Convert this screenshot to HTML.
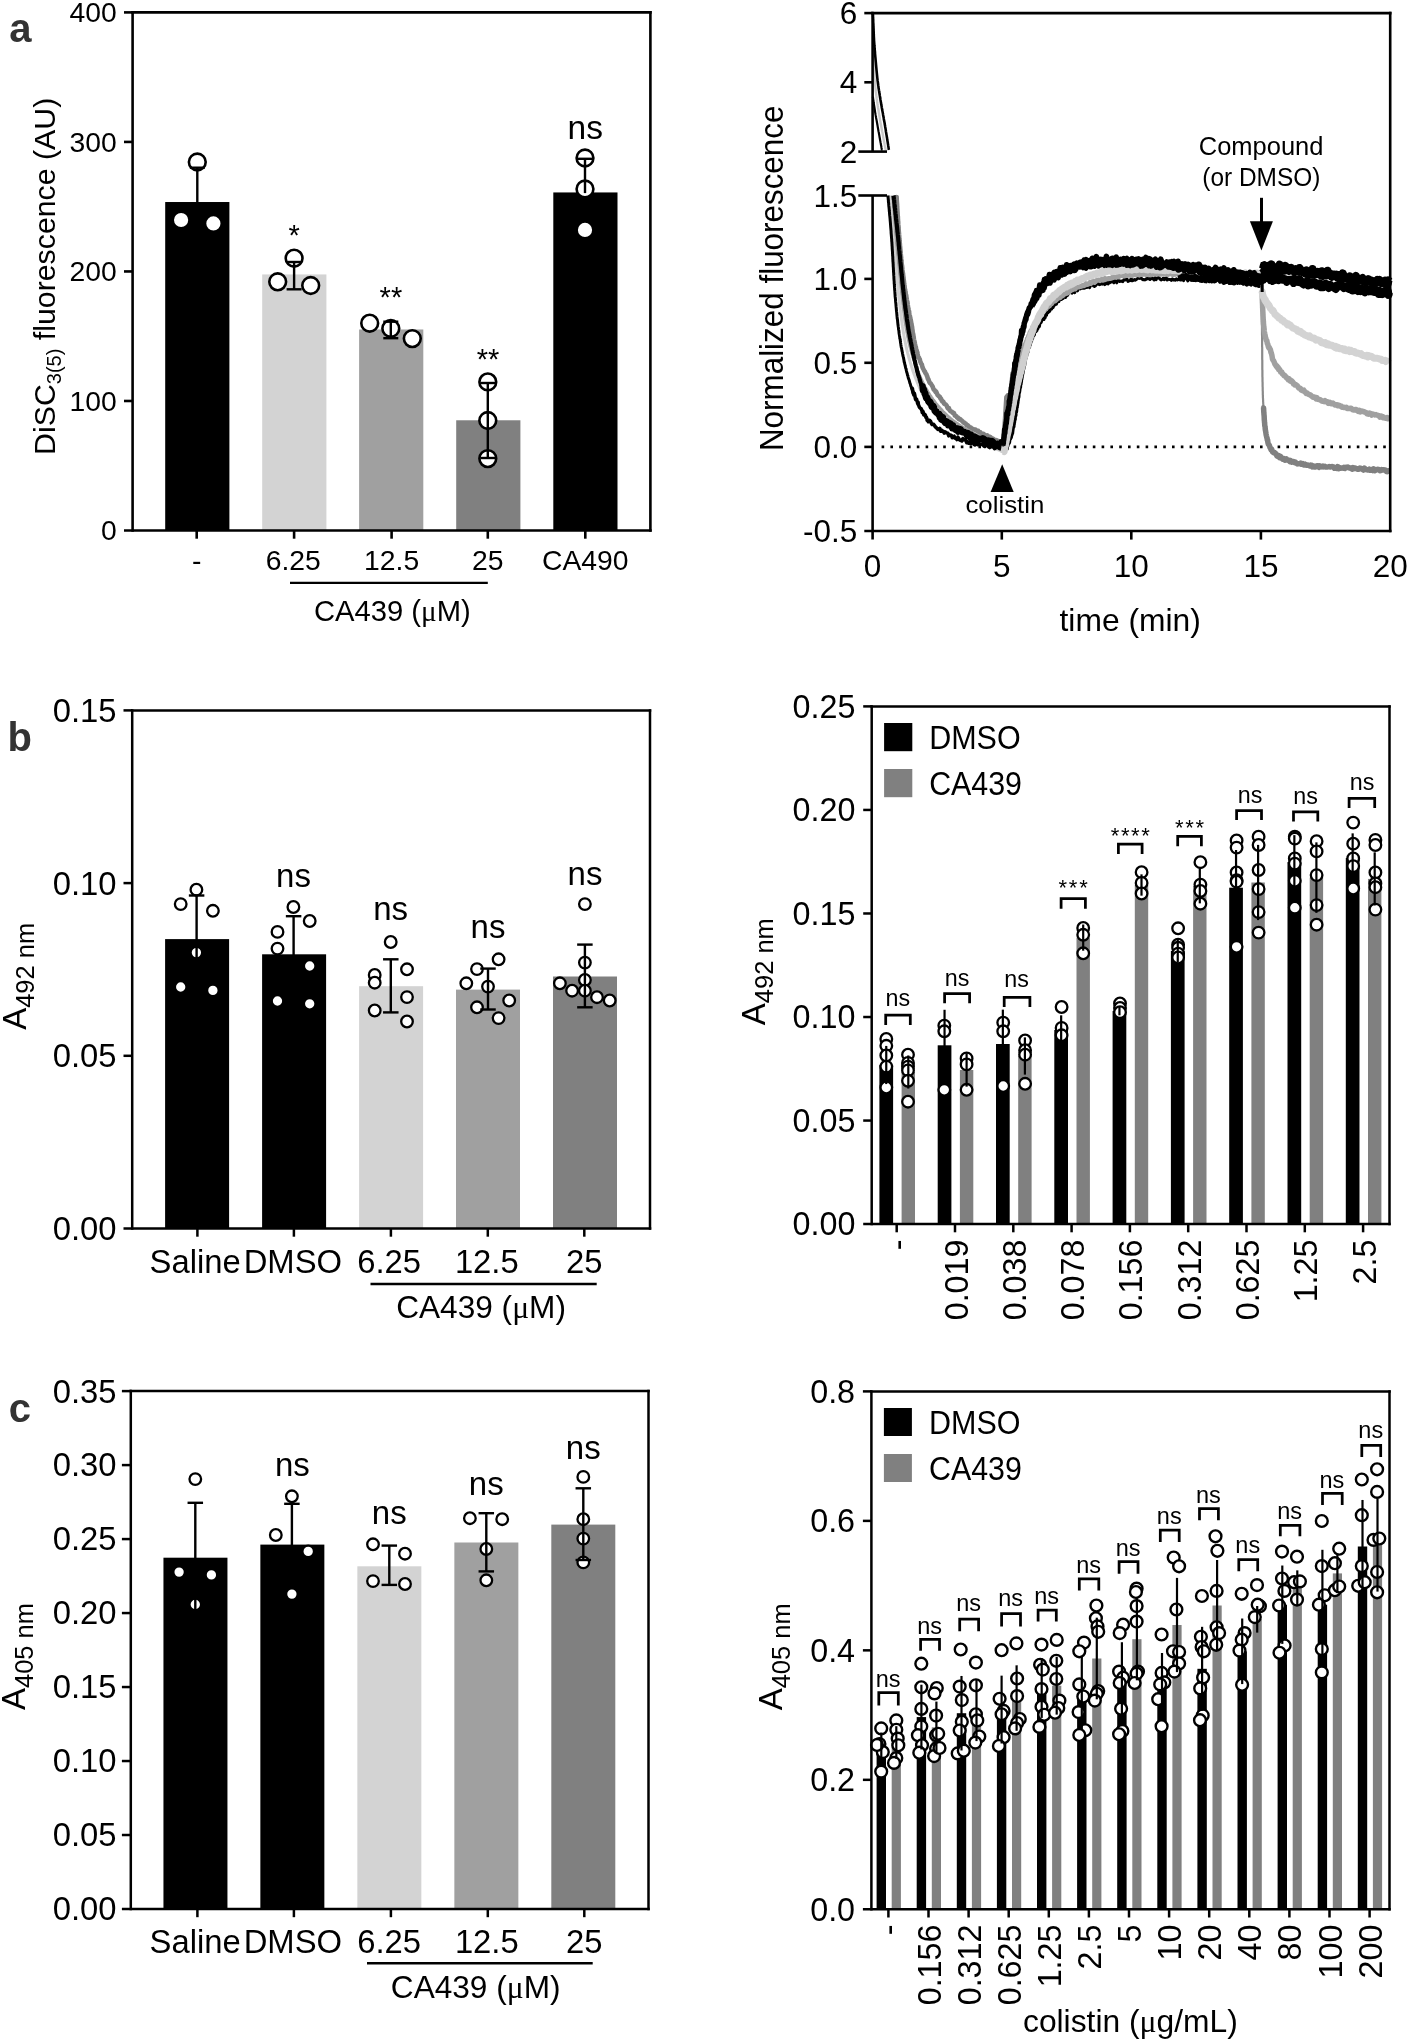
<!DOCTYPE html>
<html><head><meta charset="utf-8"><style>
html,body{margin:0;padding:0;background:#fff;}
svg{display:block;will-change:transform;}
text{font-family:"Liberation Sans", sans-serif;fill:#000;}
</style></head><body>
<svg width="1408" height="2041" viewBox="0 0 1408 2041">
<rect width="1408" height="2041" fill="#fff"/>
<text x="9.30" y="41.50" font-size="40" text-anchor="start" font-weight="bold" style="fill:#333" >a</text>
<text x="7.50" y="751.30" font-size="40" text-anchor="start" font-weight="bold" style="fill:#333" >b</text>
<text x="8.80" y="1422.20" font-size="40" text-anchor="start" font-weight="bold" style="fill:#333" >c</text>
<rect x="165.20" y="202.02" width="64.20" height="328.48" fill="#000"/>
<rect x="262.20" y="274.43" width="64.20" height="256.07" fill="#d3d3d3"/>
<rect x="359.10" y="329.48" width="64.20" height="201.02" fill="#a0a0a0"/>
<rect x="456.20" y="420.27" width="64.20" height="110.23" fill="#808080"/>
<rect x="553.30" y="192.44" width="64.20" height="338.06" fill="#000"/>
<circle cx="197.30" cy="162.00" r="8.4" fill="#fff" stroke="#000" stroke-width="2.6"/>
<circle cx="181.10" cy="220.00" r="8.4" fill="#fff" stroke="#000" stroke-width="2.6"/>
<circle cx="213.40" cy="223.40" r="8.4" fill="#fff" stroke="#000" stroke-width="2.6"/>
<circle cx="294.10" cy="258.20" r="8.4" fill="#fff" stroke="#000" stroke-width="2.6"/>
<circle cx="277.70" cy="281.80" r="8.4" fill="#fff" stroke="#000" stroke-width="2.6"/>
<circle cx="310.70" cy="285.50" r="8.4" fill="#fff" stroke="#000" stroke-width="2.6"/>
<circle cx="369.70" cy="323.20" r="8.4" fill="#fff" stroke="#000" stroke-width="2.6"/>
<circle cx="390.80" cy="328.50" r="8.4" fill="#fff" stroke="#000" stroke-width="2.6"/>
<circle cx="412.30" cy="338.60" r="8.4" fill="#fff" stroke="#000" stroke-width="2.6"/>
<circle cx="487.80" cy="381.90" r="8.4" fill="#fff" stroke="#000" stroke-width="2.6"/>
<circle cx="487.80" cy="420.50" r="8.4" fill="#fff" stroke="#000" stroke-width="2.6"/>
<circle cx="487.80" cy="458.60" r="8.4" fill="#fff" stroke="#000" stroke-width="2.6"/>
<circle cx="585.00" cy="158.00" r="8.4" fill="#fff" stroke="#000" stroke-width="2.6"/>
<circle cx="585.00" cy="189.00" r="8.4" fill="#fff" stroke="#000" stroke-width="2.6"/>
<circle cx="585.00" cy="229.90" r="8.4" fill="#fff" stroke="#000" stroke-width="2.6"/>
<line x1="197.30" y1="167.70" x2="197.30" y2="202.40" stroke="#000" stroke-width="2.4" />
<line x1="189.80" y1="167.70" x2="204.80" y2="167.70" stroke="#000" stroke-width="2.4" />
<line x1="294.10" y1="262.00" x2="294.10" y2="289.30" stroke="#000" stroke-width="2.4" />
<line x1="286.60" y1="262.00" x2="301.60" y2="262.00" stroke="#000" stroke-width="2.4" />
<line x1="286.60" y1="289.30" x2="301.60" y2="289.30" stroke="#000" stroke-width="2.4" />
<line x1="390.80" y1="321.70" x2="390.80" y2="338.20" stroke="#000" stroke-width="2.4" />
<line x1="383.30" y1="321.70" x2="398.30" y2="321.70" stroke="#000" stroke-width="2.4" />
<line x1="383.30" y1="338.20" x2="398.30" y2="338.20" stroke="#000" stroke-width="2.4" />
<line x1="487.80" y1="383.00" x2="487.80" y2="458.00" stroke="#000" stroke-width="2.4" />
<line x1="480.30" y1="383.00" x2="495.30" y2="383.00" stroke="#000" stroke-width="2.4" />
<line x1="480.30" y1="458.00" x2="495.30" y2="458.00" stroke="#000" stroke-width="2.4" />
<line x1="585.00" y1="158.80" x2="585.00" y2="193.10" stroke="#000" stroke-width="2.4" />
<line x1="577.75" y1="158.80" x2="592.25" y2="158.80" stroke="#000" stroke-width="2.4" />
<text x="294.10" y="245.00" font-size="29" text-anchor="middle" >*</text>
<text x="390.90" y="306.50" font-size="29" text-anchor="middle" >**</text>
<text x="488.00" y="369.00" font-size="29" text-anchor="middle" >**</text>
<text x="585.20" y="139.20" font-size="33.5" text-anchor="middle" >ns</text>
<line x1="132.60" y1="11.10" x2="132.60" y2="531.80" stroke="#000" stroke-width="2.6" />
<line x1="131.30" y1="12.40" x2="651.70" y2="12.40" stroke="#000" stroke-width="2.6" />
<line x1="650.40" y1="11.10" x2="650.40" y2="531.80" stroke="#000" stroke-width="2.6" />
<line x1="124.00" y1="530.50" x2="651.70" y2="530.50" stroke="#000" stroke-width="2.6" />
<line x1="124.00" y1="400.98" x2="132.60" y2="400.98" stroke="#000" stroke-width="2.6" />
<line x1="124.00" y1="271.45" x2="132.60" y2="271.45" stroke="#000" stroke-width="2.6" />
<line x1="124.00" y1="141.93" x2="132.60" y2="141.93" stroke="#000" stroke-width="2.6" />
<line x1="124.00" y1="12.40" x2="132.60" y2="12.40" stroke="#000" stroke-width="2.6" />
<text x="116.80" y="540.10" font-size="28.3" text-anchor="end" >0</text>
<text x="116.80" y="410.58" font-size="28.3" text-anchor="end" >100</text>
<text x="116.80" y="281.05" font-size="28.3" text-anchor="end" >200</text>
<text x="116.80" y="151.53" font-size="28.3" text-anchor="end" >300</text>
<text x="116.80" y="22.00" font-size="28.3" text-anchor="end" >400</text>
<line x1="196.70" y1="530.50" x2="196.70" y2="538.70" stroke="#000" stroke-width="2.6" />
<line x1="294.10" y1="530.50" x2="294.10" y2="538.70" stroke="#000" stroke-width="2.6" />
<line x1="391.60" y1="530.50" x2="391.60" y2="538.70" stroke="#000" stroke-width="2.6" />
<line x1="487.80" y1="530.50" x2="487.80" y2="538.70" stroke="#000" stroke-width="2.6" />
<line x1="585.30" y1="530.50" x2="585.30" y2="538.70" stroke="#000" stroke-width="2.6" />
<text x="196.70" y="570.40" font-size="28.3" text-anchor="middle" >-</text>
<text x="293.30" y="570.40" font-size="28.3" text-anchor="middle" >6.25</text>
<text x="391.60" y="570.40" font-size="28.3" text-anchor="middle" >12.5</text>
<text x="487.80" y="570.40" font-size="28.3" text-anchor="middle" >25</text>
<text x="585.30" y="570.40" font-size="28.3" text-anchor="middle" >CA490</text>
<line x1="290.00" y1="582.80" x2="487.80" y2="582.80" stroke="#000" stroke-width="2.3" />
<text x="392.30" y="621.00" font-size="29.2" text-anchor="middle" >CA439 (<tspan style="font-family:'Liberation Serif',serif">μ</tspan>M)</text>
<text transform="translate(55.2,276.3) rotate(-90)" font-size="30.3" text-anchor="middle">DiSC<tspan font-size="20" dy="5.9">3(5)</tspan><tspan dy="-5.9"> fluorescence (AU)</tspan></text>
<line x1="881.6" y1="446.9" x2="1386.2" y2="446.9" stroke="#000" stroke-width="2.6" stroke-dasharray="2.6,6.2" stroke-linecap="butt"/>
<g>
<polyline points="873.2,45.5 873.2,46.0 873.2,46.6 873.3,47.3 873.3,47.9 873.3,48.7 873.3,49.5 873.3,50.3 873.4,51.2 873.4,52.1 873.4,53.0 873.4,54.0 873.5,55.0 873.5,56.0 873.5,57.1 873.6,58.2 873.6,59.3 873.6,60.4 873.7,61.5 873.7,62.6 873.7,63.8 873.8,65.0 873.8,66.1 873.9,67.3 873.9,68.5 874.0,69.6 874.0,70.8 874.1,71.9 874.2,73.1 874.2,74.2 874.3,75.3 874.4,76.4 874.4,77.4 874.5,78.5 874.6,79.5 874.7,80.5 874.8,81.5 874.9,82.5 875.0,83.5 875.1,84.5 875.2,85.5 875.3,86.5 875.4,87.5 875.5,88.4 875.6,89.4 875.7,90.4 875.8,91.4 876.0,92.4 876.1,93.4 876.2,94.4 876.3,95.4 876.5,96.4 876.6,97.4 876.7,98.4 876.9,99.4 877.0,100.4 877.1,101.4 877.3,102.4 877.4,103.4 877.6,104.4 877.7,105.4 877.9,106.4 878.0,107.4 878.2,108.4 878.4,109.5 878.5,110.5 878.7,111.5 878.8,112.6 879.0,113.6 879.2,114.6 879.3,115.6 879.5,116.6 879.7,117.7 879.9,118.7 880.0,119.8 880.2,120.9 880.4,122.1 880.6,123.2 880.8,124.4 881.1,125.5 881.3,126.7 881.5,127.8 881.7,129.0 881.9,130.2 882.1,131.3 882.4,132.5 882.6,133.6 882.8,134.7 883.0,135.9 883.2,137.0 883.4,138.0 883.6,139.1 883.8,140.2 884.0,141.2 884.2,142.2 884.4,143.1 884.6,144.0 884.7,144.9 884.9,145.8 885.1,146.6 885.2,147.4 885.3,148.1 885.5,148.8 885.6,149.4 885.7,150.0 885.8,150.5" fill="none" stroke="#c8c8c8" stroke-width="2.4" stroke-linejoin="round" stroke-linecap="butt"/>
<polyline points="872.8,96.6 872.9,97.1 873.0,97.7 873.1,98.3 873.1,99.0 873.3,99.7 873.4,100.5 873.5,101.4 873.6,102.3 873.8,103.3 873.9,104.3 874.1,105.4 874.3,106.6 874.5,107.9 874.7,109.2 874.9,110.6 875.1,112.1 875.4,113.6 875.5,114.4 875.7,115.2 875.8,116.0 876.0,116.9 876.1,117.9 876.3,118.9 876.5,119.9 876.7,120.9 876.9,122.0 877.1,123.1 877.3,124.3 877.5,125.4 877.7,126.6 877.9,127.7 878.1,128.9 878.3,130.1 878.5,131.3 878.8,132.5 879.0,133.7 879.2,134.9 879.4,136.1 879.6,137.2 879.8,138.3 880.0,139.5 880.2,140.6 880.4,141.6 880.6,142.7 880.8,143.6 880.9,144.6 881.1,145.5 881.3,146.4 881.4,147.2 881.5,148.0 881.7,148.7 881.8,149.4 881.9,150.0 882.0,150.5" fill="none" stroke="#000" stroke-width="2.2" stroke-linejoin="round" stroke-linecap="butt"/>
<polyline points="872.9,13.6 872.9,14.2 873.0,14.9 873.0,15.7 873.0,16.6 873.1,17.5 873.1,18.6 873.2,19.7 873.2,20.8 873.2,22.0 873.3,23.2 873.4,24.4 873.4,25.6 873.5,26.7 873.5,27.9 873.6,29.0 873.6,30.0 873.6,31.0 873.7,32.0 873.7,32.9 873.7,33.7 873.8,34.5 873.8,35.4 873.8,36.2 873.9,37.1 873.9,38.0 874.0,39.0 874.0,40.1 874.1,41.2 874.2,42.5 874.3,43.9 874.4,45.5 874.5,46.2 874.5,47.0 874.6,47.9 874.7,48.7 874.7,49.6 874.8,50.5 874.9,51.5 875.0,52.5 875.0,53.5 875.1,54.5 875.2,55.5 875.3,56.6 875.4,57.7 875.5,58.7 875.6,59.8 875.7,60.9 875.8,62.0 875.9,63.2 876.0,64.3 876.1,65.4 876.2,66.5 876.3,67.6 876.4,68.7 876.5,69.8 876.6,70.8 876.7,71.9 876.8,72.9 876.9,73.9 877.0,74.9 877.1,75.9 877.2,76.8 877.3,77.8 877.4,78.6 877.5,79.5 877.6,80.7 877.8,81.9 877.9,83.0 878.1,84.1 878.2,85.2 878.4,86.2 878.5,87.3 878.6,88.3 878.8,89.2 878.9,90.2 879.1,91.1 879.2,92.1 879.4,93.0 879.5,93.9 879.7,94.8 879.8,95.7 880.0,96.6 880.1,97.6 880.3,98.5 880.4,99.4 880.6,100.4 880.7,101.3 880.9,102.3 881.1,103.3 881.2,104.3 881.4,105.2 881.6,106.2 881.7,107.2 881.9,108.2 882.1,109.1 882.2,110.1 882.4,111.1 882.6,112.1 882.8,113.0 883.0,114.0 883.1,115.0 883.3,116.0 883.5,116.9 883.7,117.9 883.8,118.9 884.0,119.9 884.2,120.9 884.4,121.9 884.6,122.9 884.7,124.0 884.9,125.0 885.1,126.0 885.2,127.0 885.4,128.1 885.6,129.1 885.8,130.3 885.9,131.4 886.1,132.5 886.3,133.7 886.5,134.9 886.7,136.0 886.9,137.2 887.1,138.3 887.2,139.5 887.4,140.6 887.6,141.7 887.8,142.7 887.9,143.8 888.1,144.7 888.2,145.7 888.4,146.6 888.5,147.4 888.6,148.1 888.7,148.8 888.8,149.5 888.9,150.0" fill="none" stroke="#000" stroke-width="2.6" stroke-linejoin="round" stroke-linecap="butt"/>
</g>
<polyline points="896.5,195.7 896.5,196.0 896.6,197.3 896.6,197.0 896.7,198.4 896.7,198.8 896.7,199.1 896.8,200.5 896.8,200.6 896.9,202.1 896.9,202.3 897.0,203.3 897.1,204.7 897.1,206.3 897.2,206.2 897.2,207.3 897.3,209.0 897.4,210.6 897.4,211.0 897.5,211.8 897.6,213.8 897.6,213.5 897.7,215.9 897.8,216.1 897.9,217.0 897.9,218.1 898.0,219.6 898.1,221.6 898.2,221.7 898.2,223.5 898.3,224.8 898.4,225.5 898.5,227.0 898.6,227.3 898.6,228.5 898.7,229.9 898.8,231.8 898.9,232.5 899.0,233.4 899.1,234.9 899.2,235.8 899.2,236.6 899.3,238.5 899.4,239.3 899.5,239.6 899.6,241.1 899.7,242.1 899.8,243.6 899.9,244.4 899.9,244.7 900.0,246.8 900.1,246.5 900.2,248.0 900.3,249.5 900.4,249.6 900.5,251.1 900.6,251.4 900.7,253.4 900.8,254.6 900.9,255.3 901.0,256.8 901.1,256.9 901.2,258.5 901.3,259.4 901.4,260.4 901.5,261.2 901.6,262.8 901.7,264.0 901.8,264.2 901.9,265.5 902.0,265.6 902.2,267.6 902.3,268.5 902.4,270.0 902.5,270.8 902.6,270.9 902.7,272.0 902.8,273.5 903.0,273.4 903.1,275.1 903.2,275.6 903.3,276.5 903.5,277.4 903.6,279.5 903.7,279.4 903.8,280.6 904.0,281.8 904.1,283.5 904.2,283.3 904.4,284.9 904.6,286.1 904.7,287.7 904.9,288.7 905.0,289.8 905.2,289.9 905.4,291.2 905.6,292.1 905.7,294.0 905.9,295.2 906.1,295.0 906.3,296.0 906.4,297.2 906.6,298.2 906.8,299.6 907.0,300.8 907.2,301.3 907.4,302.0 907.6,303.6 907.7,304.6 907.9,305.9 908.1,307.5 908.3,308.1 908.5,308.8 908.7,310.0 908.9,311.0 909.1,311.0 909.2,313.4 909.4,314.1 909.6,315.2 909.8,316.1 910.0,316.4 910.1,317.3 910.3,317.7 910.5,319.5 910.7,319.5 910.8,320.4 911.0,321.5 911.2,322.6 911.4,324.0 911.6,324.7 911.8,325.7 912.0,327.0 912.2,328.0 912.3,329.5 912.5,330.0 912.7,332.4 912.9,333.0 913.0,333.2 913.2,334.4 913.4,335.5 913.5,336.5 913.7,337.1 913.9,339.3 914.1,340.5 914.3,340.6 914.4,341.6 914.6,341.9 914.8,342.8 915.0,344.2 915.2,345.0 915.5,346.8 915.7,346.7 915.9,347.4 916.2,349.9 916.4,350.1 916.7,350.5 917.0,352.1 917.3,352.2 917.6,354.0 918.0,355.8 918.3,356.6 918.7,357.3 919.0,357.7 919.4,358.8 919.8,359.5 920.2,361.5 920.6,362.2 921.0,363.6 921.4,363.8 921.9,364.7 922.3,366.6 922.7,367.9 923.1,368.6 923.6,369.5 924.0,370.5 924.4,371.3 924.9,371.4 925.3,372.8 925.7,373.4 926.1,373.8 926.5,374.6 926.9,375.8 927.3,376.6 927.7,378.1 928.0,379.3 928.4,379.2 929.0,381.2 929.5,382.4 930.1,383.4 930.6,383.4 931.1,384.1 931.6,384.9 932.1,385.7 932.6,386.5 933.1,387.9 933.5,389.1 934.0,389.8 934.6,389.9 935.1,391.0 935.7,392.0 936.2,391.7 936.9,393.4 937.5,394.8 938.0,395.3 938.6,396.0 939.2,396.4 939.8,396.7 940.4,398.5 941.0,398.6 941.6,400.2 942.2,401.3 942.8,401.2 943.5,402.0 944.1,403.7 944.8,404.2 945.5,404.2 946.1,404.9 946.8,405.8 947.5,407.8 948.2,408.5 948.9,408.2 949.6,410.1 950.4,411.1 951.1,411.4 951.8,411.6 952.5,412.6 953.3,412.7 954.0,413.2 954.8,415.5 955.5,415.7 956.3,416.2 957.1,417.6 957.9,417.5 958.6,418.9 959.4,419.5 960.2,419.2 961.0,420.0 961.8,420.7 962.6,421.3 963.4,422.5 964.3,422.6 965.0,423.5 965.8,423.6 966.6,425.4 967.4,425.1 968.2,425.8 969.1,426.6 970.0,427.8 970.9,427.6 971.8,428.9 972.7,428.8 973.7,429.3 974.6,429.8 975.5,429.5 976.4,430.6 977.3,430.7 978.2,430.8 979.1,432.5 980.0,432.0 980.9,432.9 981.8,433.7 982.6,433.8 983.5,433.9 984.4,434.6 985.2,435.1 986.2,436.0 987.2,435.4 988.3,436.6 989.3,436.6 990.4,437.1 991.5,438.4 992.5,438.4 993.5,439.0 994.5,439.8 995.4,440.4 996.4,440.1 997.2,440.7 998.0,440.9 998.8,441.3 999.4,441.8 1000.0,441.7 1002.2,442.9 1002.5,443.0" fill="none" stroke="#808080" stroke-width="4.6" stroke-linejoin="round" stroke-linecap="butt"/>
<polyline points="889.4,195.5 889.4,196.0 889.5,196.6 889.5,197.1 889.6,197.7 889.6,198.4 889.7,199.0 889.8,199.7 889.8,200.4 889.9,201.1 889.9,201.9 890.0,202.7 890.1,203.5 890.1,204.3 890.2,205.1 890.3,206.0 890.4,206.9 890.4,207.8 890.5,208.7 890.6,209.6 890.7,210.6 890.7,211.6 890.8,212.6 890.9,213.6 891.0,214.6 891.1,215.6 891.2,216.7 891.3,217.7 891.4,218.8 891.4,219.9 891.5,221.0 891.6,222.1 891.7,223.2 891.8,224.4 891.9,225.5 892.0,226.6 892.1,227.8 892.2,228.9 892.3,230.1 892.4,231.3 892.5,232.4 892.6,233.6 892.7,234.8 892.8,236.0 892.9,237.1 893.1,238.3 893.2,239.5 893.3,240.7 893.4,241.9 893.5,243.1 893.6,244.2 893.7,245.4 893.8,246.6 893.9,247.7 894.0,248.9 894.2,250.1 894.3,251.2 894.4,252.4 894.5,253.5 894.6,254.4 894.7,255.3 894.8,256.3 894.9,257.2 895.0,258.1 895.1,259.1 895.2,260.1 895.3,261.1 895.3,262.0 895.4,263.0 895.5,264.0 895.6,265.1 895.7,266.1 895.8,267.1 895.9,268.1 896.1,269.2 896.2,270.2 896.3,271.3 896.4,272.3 896.5,273.4 896.6,274.5 896.7,275.5 896.8,276.6 896.9,277.7 897.0,278.8 897.1,279.9 897.2,280.9 897.3,282.0 897.4,283.1 897.6,284.2 897.7,285.3 897.8,286.4 897.9,287.5 898.0,288.6 898.1,289.7 898.2,290.8 898.3,291.9 898.5,292.9 898.6,294.0 898.7,295.1 898.8,296.2 898.9,297.3 899.0,298.3 899.1,299.4 899.3,300.5 899.4,301.5 899.5,302.6 899.6,303.6 899.7,304.7 899.8,305.7 900.0,306.7 900.1,307.8 900.2,308.8 900.3,309.8 900.4,310.8 900.6,311.8 900.7,312.8 900.8,313.7 900.9,314.7 901.0,315.7 901.2,316.6 901.3,317.5 901.4,318.5 901.5,319.4 901.6,320.3 901.8,321.2 901.9,322.0 902.0,322.9 902.1,323.7 902.2,324.6 902.4,325.4 902.5,326.2 902.6,327.0 902.8,328.3 903.0,329.7 903.2,331.0 903.4,332.2 903.6,333.4 903.8,334.6 904.0,335.8 904.2,337.0 904.4,338.1 904.6,339.2 904.9,340.3 905.1,341.3 905.3,342.4 905.5,343.4 905.7,344.4 905.9,345.4 906.1,346.4 906.3,347.3 906.5,348.3 906.7,349.2 906.9,350.1 907.1,351.0 907.4,351.9 907.6,352.8 907.8,353.6 908.0,354.5 908.3,355.4 908.5,356.2 908.7,357.0 908.9,357.9 909.2,358.7 909.4,359.6 909.7,360.4 909.9,361.2 910.2,362.1 910.4,362.9 910.7,363.7 910.9,364.6 911.2,365.4 911.5,366.3 911.7,367.1 912.0,368.0 912.3,369.1 912.7,370.1 913.0,371.2 913.4,372.2 913.8,373.3 914.1,374.3 914.5,375.3 914.9,376.3 915.2,377.3 915.6,378.3 916.0,379.3 916.4,380.3 916.8,381.3 917.2,382.3 917.6,383.2 918.0,384.2 918.4,385.1 918.8,386.1 919.2,387.0 919.6,387.9 920.1,388.8 920.5,389.7 920.9,390.6 921.4,391.5 921.8,392.4 922.3,393.3 922.7,394.1 923.2,395.0 923.6,395.9 924.1,396.7 924.6,397.5 925.0,398.4 925.5,399.2 926.0,400.0 926.6,400.9 927.1,401.9 927.7,402.8 928.3,403.7 928.9,404.6 929.5,405.5 930.1,406.4 930.7,407.2 931.3,408.1 931.9,408.9 932.6,409.8 933.2,410.6 933.8,411.4 934.5,412.2 935.1,413.0 935.8,413.8 936.5,414.6 937.1,415.3 937.8,416.1 938.5,416.8 939.2,417.6 939.9,418.3 940.6,419.0 941.3,419.7 942.0,420.4 942.8,421.0 943.5,421.7 944.2,422.4 945.0,423.0 945.8,423.7 946.6,424.3 947.4,424.9 948.3,425.5 949.2,426.1 950.1,426.7 950.9,427.2 951.9,427.8 952.8,428.3 953.7,428.9 954.6,429.4 955.6,429.9 956.5,430.4 957.4,430.9 958.4,431.4 959.3,431.8 960.3,432.3 961.2,432.7 962.1,433.2 963.0,433.6 964.0,434.1 964.9,434.5 965.8,434.9 966.6,435.3 967.5,435.8 968.4,436.2 969.2,436.6 970.0,437.0 971.1,437.5 972.1,438.1 973.2,438.6 974.2,439.1 975.2,439.5 976.3,440.0 977.3,440.5 978.3,440.9 979.2,441.3 980.2,441.8 981.2,442.2 982.1,442.6 983.0,443.0 984.0,443.4 984.9,443.8 985.8,444.1 986.6,444.5 987.5,444.9 988.3,445.3 989.2,445.6 990.0,446.0 991.1,446.5 992.3,447.0 993.4,447.6 994.5,448.1 995.6,448.6 996.7,449.1 997.7,449.6 998.7,450.0 999.7,450.5 1000.6,450.9 1001.4,451.3 1002.2,451.7 1002.9,452.0 1003.5,452.3 1004.0,452.5" fill="none" stroke="#cfcfcf" stroke-width="3.0" stroke-linejoin="round" stroke-linecap="butt"/>
<polyline points="892.5,195.5 892.5,196.0 892.6,196.6 892.6,197.1 892.7,197.7 892.7,198.4 892.8,199.0 892.8,199.7 892.9,200.4 893.0,201.1 893.0,201.9 893.1,202.7 893.1,203.5 893.2,204.3 893.3,205.1 893.4,206.0 893.4,206.9 893.5,207.8 893.6,208.7 893.6,209.6 893.7,210.6 893.8,211.6 893.9,212.6 894.0,213.6 894.0,214.6 894.1,215.6 894.2,216.7 894.3,217.7 894.4,218.8 894.5,219.9 894.6,221.0 894.7,222.1 894.7,223.2 894.8,224.4 894.9,225.5 895.0,226.6 895.1,227.8 895.2,228.9 895.3,230.1 895.4,231.3 895.5,232.4 895.6,233.6 895.7,234.8 895.8,236.0 895.9,237.1 896.0,238.3 896.2,239.5 896.3,240.7 896.4,241.9 896.5,243.1 896.6,244.2 896.7,245.4 896.8,246.6 896.9,247.7 897.0,248.9 897.2,250.1 897.3,251.2 897.4,252.4 897.5,253.5 897.6,254.4 897.7,255.3 897.8,256.3 897.9,257.2 898.0,258.1 898.1,259.1 898.2,260.1 898.3,261.1 898.4,262.1 898.5,263.1 898.6,264.1 898.7,265.1 898.8,266.1 898.9,267.1 899.0,268.2 899.1,269.2 899.2,270.3 899.3,271.3 899.4,272.4 899.5,273.5 899.6,274.5 899.8,275.6 899.9,276.7 900.0,277.8 900.1,278.9 900.2,279.9 900.3,281.0 900.4,282.1 900.6,283.2 900.7,284.3 900.8,285.4 900.9,286.5 901.0,287.6 901.1,288.7 901.3,289.8 901.4,290.9 901.5,292.0 901.6,293.1 901.7,294.2 901.9,295.2 902.0,296.3 902.1,297.4 902.2,298.5 902.3,299.6 902.5,300.6 902.6,301.7 902.7,302.7 902.8,303.8 903.0,304.8 903.1,305.9 903.2,306.9 903.3,307.9 903.5,308.9 903.6,309.9 903.7,310.9 903.8,311.9 904.0,312.9 904.1,313.9 904.2,314.8 904.4,315.8 904.5,316.7 904.6,317.7 904.7,318.6 904.9,319.5 905.0,320.4 905.1,321.2 905.2,322.1 905.4,323.0 905.5,323.8 905.6,324.6 905.7,325.4 905.9,326.2 906.0,327.0 906.2,328.4 906.5,329.7 906.7,331.1 906.9,332.3 907.2,333.6 907.4,334.8 907.6,336.0 907.8,337.2 908.1,338.3 908.3,339.4 908.5,340.5 908.8,341.6 909.0,342.6 909.2,343.6 909.5,344.6 909.7,345.6 909.9,346.5 910.2,347.5 910.4,348.4 910.7,349.3 910.9,350.2 911.1,351.1 911.4,351.9 911.6,352.8 911.9,353.6 912.1,354.5 912.4,355.3 912.7,356.1 912.9,356.9 913.2,357.8 913.5,358.6 913.7,359.4 914.0,360.2 914.3,361.0 914.5,361.8 914.8,362.7 915.1,363.5 915.4,364.3 915.7,365.2 916.0,366.0 916.4,367.1 916.8,368.1 917.1,369.1 917.5,370.1 917.9,371.1 918.3,372.1 918.7,373.1 919.1,374.1 919.5,375.1 919.9,376.0 920.3,376.9 920.7,377.9 921.1,378.8 921.5,379.7 921.9,380.6 922.4,381.5 922.8,382.4 923.2,383.3 923.7,384.1 924.1,385.0 924.6,385.9 925.0,386.7 925.5,387.6 926.0,388.4 926.5,389.2 926.9,390.1 927.4,390.9 927.9,391.7 928.4,392.6 929.0,393.4 929.5,394.2 930.0,395.0 930.6,395.9 931.1,396.7 931.7,397.6 932.3,398.4 932.9,399.3 933.5,400.1 934.2,400.9 934.8,401.7 935.4,402.6 936.0,403.4 936.7,404.2 937.3,405.0 938.0,405.8 938.6,406.5 939.3,407.3 940.0,408.1 940.7,408.8 941.4,409.6 942.0,410.3 942.7,411.1 943.4,411.8 944.2,412.5 944.9,413.2 945.6,413.9 946.3,414.6 947.0,415.3 947.8,416.0 948.5,416.7 949.3,417.3 950.0,418.0 950.8,418.7 951.6,419.3 952.4,420.0 953.2,420.6 954.0,421.2 954.8,421.8 955.7,422.4 956.5,423.0 957.4,423.6 958.3,424.2 959.1,424.8 960.0,425.3 960.9,425.9 961.7,426.4 962.6,427.0 963.5,427.5 964.4,428.0 965.3,428.5 966.2,429.1 967.1,429.6 968.0,430.1 968.9,430.6 969.7,431.1 970.6,431.6 971.5,432.1 972.4,432.5 973.3,433.0 974.1,433.5 975.0,434.0 975.9,434.5 976.9,435.0 977.9,435.6 978.9,436.1 980.0,436.6 981.0,437.2 982.1,437.7 983.2,438.2 984.3,438.7 985.3,439.3 986.4,439.8 987.5,440.3 988.5,440.8 989.6,441.2 990.6,441.7 991.6,442.2 992.6,442.6 993.5,443.0 994.4,443.4 995.3,443.8 996.1,444.2 996.9,444.6 997.6,444.9 998.3,445.2 998.9,445.5 999.5,445.8 1000.0,446.0" fill="none" stroke="#a0a0a0" stroke-width="3.0" stroke-linejoin="round" stroke-linecap="butt"/>
<polyline points="893.5,195.6 893.6,195.9 893.6,196.7 893.7,197.3 893.8,197.3 893.8,198.3 893.9,199.3 894.0,200.0 894.1,200.0 894.2,200.8 894.2,202.0 894.3,202.5 894.4,203.5 894.5,204.3 894.6,205.8 894.7,206.9 894.9,208.0 895.0,208.2 895.1,209.8 895.2,210.8 895.3,211.3 895.4,213.2 895.5,214.3 895.7,214.7 895.8,216.6 895.9,217.2 896.0,218.4 896.2,220.1 896.3,221.1 896.4,221.6 896.5,223.0 896.7,224.3 896.8,225.3 896.9,226.4 897.1,227.7 897.2,229.4 897.3,229.9 897.4,231.6 897.6,232.7 897.7,233.5 897.8,235.0 898.0,236.5 898.1,237.6 898.2,238.4 898.3,240.2 898.4,240.8 898.5,241.9 898.6,242.0 898.7,243.1 898.7,243.8 898.8,245.4 898.9,245.9 899.0,246.7 899.1,248.0 899.2,249.4 899.3,250.3 899.4,250.8 899.5,251.7 899.6,253.5 899.7,254.1 899.8,255.3 899.9,255.7 900.0,256.7 900.1,258.4 900.2,259.1 900.3,259.8 900.4,261.7 900.5,262.5 900.6,263.7 900.7,264.1 900.8,265.9 900.9,266.2 901.0,268.0 901.1,268.7 901.2,269.6 901.3,270.9 901.4,272.3 901.5,272.7 901.6,273.6 901.7,275.1 901.8,275.8 901.9,276.8 902.0,277.8 902.1,278.8 902.2,280.0 902.3,281.1 902.4,282.1 902.5,283.6 902.6,284.1 902.7,285.3 902.8,286.0 902.9,287.2 903.0,287.8 903.1,289.0 903.3,289.8 903.4,291.4 903.5,292.2 903.6,292.8 903.7,294.0 903.8,295.4 903.9,295.4 904.0,297.0 904.1,297.5 904.2,298.8 904.4,300.2 904.5,300.9 904.7,302.2 904.8,303.4 904.9,304.8 905.1,305.3 905.2,306.8 905.3,307.8 905.5,308.7 905.6,309.5 905.7,310.5 905.9,311.2 906.0,312.3 906.1,313.3 906.3,314.9 906.4,315.4 906.5,316.3 906.7,317.2 906.8,318.9 906.9,319.9 907.1,320.7 907.2,321.3 907.4,322.2 907.5,323.2 907.7,324.3 907.8,324.9 907.9,326.2 908.1,326.9 908.3,328.6 908.4,329.5 908.6,330.0 908.7,330.7 908.9,332.4 909.1,332.6 909.2,333.7 909.4,334.3 909.6,335.6 909.7,336.7 909.9,337.7 910.1,338.3 910.3,339.6 910.5,340.1 910.7,341.4 910.9,342.2 911.1,343.5 911.3,344.1 911.5,345.1 911.7,346.4 911.9,347.3 912.1,348.7 912.3,349.7 912.6,350.9 912.8,351.9 913.0,353.0 913.2,354.2 913.4,354.7 913.7,355.7 913.9,357.4 914.1,357.6 914.4,359.3 914.6,360.2 914.8,360.7 915.1,362.5 915.3,363.6 915.6,364.4 915.8,365.5 916.1,366.6 916.3,366.9 916.6,368.3 916.8,369.3 917.1,370.7 917.3,371.6 917.6,372.6 917.9,373.4 918.1,374.6 918.4,375.4 918.7,376.3 918.9,376.8 919.2,377.5 919.5,378.5 919.7,379.7 920.0,380.3 920.3,381.9 920.6,382.5 920.9,383.4 921.1,384.2 921.4,385.1 921.7,385.7 922.1,386.4 922.6,388.3 923.0,389.4 923.4,390.2 923.9,391.3" fill="none" stroke="#000" stroke-width="4.2" stroke-linejoin="round" stroke-linecap="butt"/>
<polyline points="922.1,387.5 922.6,386.3 923.0,390.1 923.4,389.2 923.9,389.6 924.3,391.4 924.8,394.2 925.2,393.1 925.7,396.2 926.2,398.1 926.6,397.1 927.1,397.6 927.6,398.9 928.1,400.6 928.5,401.8 929.0,402.0 929.5,402.9 930.0,401.5 930.5,402.6 931.0,403.8 931.6,406.5 932.1,405.5 932.6,407.4 933.1,405.9 933.7,406.8 934.2,408.4 934.7,410.7 935.3,411.5 935.8,412.2 936.4,411.4 937.1,413.1 937.8,413.7 938.5,414.5 939.2,413.9 939.9,417.8 940.6,415.7 941.3,419.6 942.1,420.1 942.8,417.1 943.6,419.5 944.3,421.6 945.1,422.9 945.9,421.4 946.7,421.3 947.4,421.7 948.2,425.2 949.0,422.9 949.8,424.9 950.6,423.7 951.4,425.8 952.2,428.1 953.0,425.3 953.9,428.6 954.7,427.9 955.5,429.9 956.4,429.8 957.2,428.4 958.1,431.6 959.0,430.4 959.9,429.1 960.7,429.5 961.6,431.9 962.5,432.2 963.4,432.1 964.4,431.9 965.3,433.1 966.2,433.4 967.1,435.9 968.0,433.0 969.0,436.4 969.9,437.1 970.9,434.6 971.8,438.2 972.8,437.7 973.7,438.8 974.7,436.7 975.7,437.4 976.6,437.8 977.6,440.6 978.6,439.3 979.6,438.7 980.6,439.3 981.7,439.0 982.8,438.3 983.9,438.9 985.1,442.1 986.2,440.2 987.4,443.0 988.6,440.6 989.7,440.9 990.9,442.1 992.0,441.1 993.1,442.0 994.2,444.6 995.3,444.5 996.3,444.4 997.3,443.9 998.2,445.2 999.1,445.5 999.9,444.1 1000.7,445.0 1001.3,442.4 1002.0,445.3 1002.5,444.3" fill="none" stroke="#000" stroke-width="6.5" stroke-linejoin="round" stroke-linecap="butt"/>
<polyline points="887.9,195.4 887.9,195.8 888.0,196.1 888.0,196.5 888.1,197.9 888.2,197.9 888.2,198.9 888.3,199.5 888.4,200.2 888.4,201.4 888.5,202.4 888.6,202.7 888.7,203.9 888.7,204.5 888.8,205.7 888.9,206.5 889.0,207.3 889.1,208.3 889.2,209.4 889.3,211.0 889.4,211.7 889.5,212.6 889.6,214.2 889.7,215.4 889.8,216.1 889.9,217.0 890.0,218.2 890.1,219.2 890.2,220.6 890.3,221.6 890.4,222.9 890.5,224.1 890.6,225.6 890.7,227.0 890.8,228.1 890.9,229.1 891.0,230.3 891.1,231.6 891.1,232.7 891.2,233.9 891.3,234.9 891.4,236.2 891.5,238.0 891.6,238.5 891.7,239.7 891.7,240.7 891.8,241.8 891.9,242.2 891.9,243.2 892.0,244.1 892.0,245.2 892.1,246.2 892.2,247.6 892.2,248.5 892.3,249.5 892.3,249.8 892.4,250.9 892.5,252.4 892.5,253.6 892.6,254.3 892.6,255.4 892.7,256.0 892.8,257.4 892.8,258.9 892.9,259.8 892.9,260.9 893.0,262.1 893.1,262.6 893.1,263.6 893.2,264.7 893.2,266.0 893.3,267.2 893.4,268.5 893.4,269.4 893.5,270.4 893.5,271.6 893.6,272.5 893.7,273.6 893.7,274.3 893.8,275.9 893.9,276.6 893.9,278.2 894.0,279.0 894.0,279.8 894.1,280.7 894.2,281.8 894.2,283.2 894.3,284.3 894.4,284.8 894.4,285.8 894.5,287.2 894.6,288.2 894.6,289.1 894.7,289.9 894.8,291.2 894.9,291.7 894.9,292.9 895.0,293.9 895.1,295.3 895.1,295.9 895.2,297.0 895.3,297.6 895.4,298.6 895.5,299.7 895.6,301.4 895.7,302.3 895.8,303.1 895.9,304.0 896.0,305.5 896.1,306.7 896.2,307.6 896.3,308.6 896.4,309.9 896.5,311.2 896.6,311.7 896.7,312.6 896.8,313.8 896.9,314.9 897.0,316.2 897.1,316.8 897.2,318.3 897.4,319.2 897.5,320.0 897.6,320.7 897.7,322.3 897.8,322.8 897.9,324.1 898.0,324.6 898.1,325.6 898.3,327.0 898.4,327.5 898.5,329.0 898.6,329.6 898.8,330.3 898.9,331.2 899.0,332.3 899.1,333.4 899.3,334.6 899.4,334.9 899.5,336.0 899.7,336.8 899.8,338.3 900.0,338.6 900.1,339.4 900.3,340.3 900.4,341.5 900.6,343.0 900.8,344.1 900.9,345.0 901.1,346.3 901.3,347.4 901.5,348.0 901.7,348.9 901.9,350.6 902.1,351.5 902.3,352.0 902.5,353.5 902.7,354.3 902.9,355.4 903.1,356.4 903.4,357.3 903.6,358.2 903.8,359.4 904.0,360.5 904.2,362.0 904.5,362.3 904.7,364.0 904.9,364.3 905.1,365.4 905.4,366.8 905.6,367.7 905.8,368.4 906.1,369.0 906.3,370.3 906.5,371.2 906.8,372.5 907.0,372.9 907.3,373.9 907.5,375.2 907.8,375.4 908.0,376.6 908.3,377.8 908.5,378.6 908.8,379.2 909.2,380.3 909.5,381.4 909.9,383.1 910.2,383.7 910.6,385.1 910.9,386.3 911.3,386.9 911.6,387.8 912.0,389.4 912.4,390.1 912.8,390.8 913.1,392.1" fill="none" stroke="#000" stroke-width="3.0" stroke-linejoin="round" stroke-linecap="butt"/>
<polyline points="911.6,387.5 912.0,388.3 912.4,388.5 912.8,391.7 913.1,393.2 913.5,393.3 913.9,395.2 914.3,393.3 914.7,394.9 915.0,396.5 915.4,398.8 915.8,399.7 916.2,398.8 916.6,399.3 916.9,400.6 917.3,401.6 917.7,403.7 918.1,402.3 918.4,404.9 918.8,405.5 919.3,406.9 919.9,407.8 920.4,408.3 920.9,408.4 921.4,409.4 921.9,410.4 922.3,412.6 922.8,411.3 923.3,412.5 923.8,415.0 924.4,414.3 924.9,414.5 925.4,415.2 926.0,417.5 926.6,417.5 927.1,420.2 927.8,420.7 928.4,421.7 929.1,420.3 929.8,420.5 930.5,421.2 931.3,423.2 932.1,424.5 932.9,424.4 933.7,424.4 934.5,425.6 935.4,426.9 936.3,427.7 937.1,428.5 938.0,429.4 938.9,429.5 939.8,428.4 940.7,431.2 941.6,430.1 942.5,431.4 943.4,431.4 944.3,433.0 945.2,431.9 946.1,432.5 947.0,433.0 947.9,433.2 948.7,435.8 949.6,435.3 950.5,435.0 951.4,435.6 952.3,437.7 953.2,436.7 954.1,436.2 955.1,438.3 956.0,438.2 956.9,439.5 957.9,437.2 958.9,438.7 959.8,440.0 960.8,440.4 961.9,441.0 962.9,438.7 963.8,439.8 964.8,439.6 965.7,440.1 966.7,442.7 967.7,441.8 968.7,443.2 969.7,441.8 970.8,443.6 971.8,442.6 972.9,442.3 973.9,444.2 975.0,444.9 976.0,442.7 977.0,444.4 978.1,444.8 979.1,443.8 980.1,444.5 981.1,444.1 982.1,444.5 983.0,444.8 984.0,446.1 984.9,446.5 986.1,445.4 987.3,445.0 988.5,446.2 989.7,447.5 990.9,446.2 992.1,446.8 993.3,446.7 994.5,448.6 995.6,448.0 996.7,446.8 997.8,447.0 998.7,448.0 999.7,448.6 1000.5,449.0 1001.3,447.5 1001.9,447.8 1002.5,449.5" fill="none" stroke="#000" stroke-width="3.6" stroke-linejoin="round" stroke-linecap="butt"/>
<polyline points="1002.5,443.0 1004.2,420.0 1005.6,397.0 1007.5,394.5 1009.0,400.0 1012.0,372.0" fill="none" stroke="#808080" stroke-width="3.0" stroke-linejoin="round" stroke-linecap="butt"/>
<polyline points="1006.5,449.7 1006.7,448.8 1007.0,448.1 1007.3,449.2 1007.6,446.3 1008.0,445.9 1008.4,444.2 1008.8,443.2 1009.2,443.4 1009.6,442.6 1010.0,439.6 1010.3,438.2 1010.6,439.1 1010.8,436.8 1011.1,435.5 1011.4,437.5 1011.7,435.3 1011.9,435.6 1012.2,433.4 1012.6,433.7 1012.9,431.2 1013.2,428.8 1013.6,426.5 1013.7,427.5 1013.9,427.0 1014.0,427.0 1014.2,423.7 1014.3,424.5 1014.5,422.8 1014.7,422.3 1014.8,420.3 1015.0,419.7 1015.2,419.4 1015.3,419.6 1015.5,416.1 1015.7,416.2 1015.8,416.1 1016.0,415.5 1016.2,412.1 1016.4,410.8 1016.6,412.1 1016.7,411.1 1016.9,408.5 1017.1,406.1 1017.3,407.6 1017.5,404.9 1017.6,405.3 1017.8,403.4 1018.0,402.9 1018.2,399.8 1018.3,400.7 1018.5,397.9 1018.7,397.5 1018.8,397.8 1019.0,396.8 1019.1,393.9 1019.3,393.2 1019.5,392.6 1019.7,391.8 1019.9,390.3 1020.1,388.4 1020.3,387.6 1020.4,388.0 1020.6,387.5 1020.8,383.8 1021.0,384.4 1021.2,383.9 1021.3,380.7 1021.5,382.1 1021.7,379.0 1021.9,379.4 1022.0,378.3 1022.2,377.6 1022.4,375.7 1022.6,375.1 1022.7,374.6 1022.9,373.2 1023.1,373.0 1023.3,371.4 1023.5,370.5 1023.6,368.4 1023.8,369.2 1024.0,368.0 1024.2,366.1 1024.5,366.5 1024.7,365.5 1025.0,363.4 1025.2,361.5 1025.4,361.4 1025.7,359.2 1025.9,358.3 1026.1,358.2 1026.4,356.2 1026.6,356.3 1026.9,355.5 1027.1,353.1 1027.4,354.0 1027.6,351.4 1027.9,352.4 1028.2,351.6 1028.4,349.9 1028.7,347.6 1029.0,348.0 1029.3,346.6 1029.6,347.3 1029.9,343.9 1030.2,345.2 1030.4,344.7 1030.7,343.0 1031.0,342.4 1031.3,339.7 1031.6,341.2 1031.9,338.8 1032.3,339.3 1032.7,338.3 1033.2,335.0 1033.7,335.8 1034.3,335.1 1035.0,331.4 1035.7,331.0 1036.1,331.5 1036.5,329.0 1037.0,330.5 1037.4,327.9 1037.9,328.7 1038.4,325.9 1038.9,326.2 1039.4,326.6 1039.9,323.6 1040.5,322.9 1041.0,322.7 1041.6,321.3 1042.2,319.5 1042.8,319.1 1043.4,318.1 1044.0,319.5 1044.6,317.8 1045.2,317.6 1045.8,314.5 1046.5,315.4 1047.1,312.5 1047.7,312.9 1048.4,312.3 1049.1,310.6 1049.7,311.3 1050.4,309.5 1051.0,308.8 1051.7,308.9 1052.3,305.8 1053.0,307.7 1053.7,305.9 1054.3,304.5 1055.0,305.0 1055.6,302.8 1056.4,304.2 1057.2,302.2 1058.0,300.9 1058.9,301.4 1059.7,299.8 1060.5,298.4 1061.4,299.5 1062.2,296.8 1063.1,298.5 1063.9,296.3 1064.8,296.9 1065.6,297.4 1066.5,295.7 1067.4,295.5 1068.3,294.0 1069.1,292.6 1070.0,292.2 1070.9,292.2 1071.9,293.1 1072.8,292.2 1073.7,292.0 1074.7,292.7 1075.6,290.1 1076.6,289.9 1077.5,290.8 1078.5,288.6 1079.5,288.1 1080.4,288.8 1081.3,287.7 1082.2,288.2 1083.1,287.5 1084.0,288.2 1084.9,288.0 1085.8,286.5 1086.8,287.5 1087.7,286.8 1088.6,285.5 1089.6,287.7 1090.5,285.4 1091.5,284.9 1092.4,284.5 1093.4,285.9 1094.4,286.4 1095.4,285.9 1096.4,284.6 1097.4,283.9 1098.4,283.0 1099.4,284.7 1100.5,284.3 1101.5,283.4 1102.6,284.1 1103.7,283.3 1104.8,284.6 1105.9,283.8 1107.0,282.2 1108.1,284.0 1109.3,281.2 1110.2,282.6 1111.1,282.0 1112.0,281.4 1113.0,280.7 1113.9,282.8 1114.9,280.3 1115.8,281.8 1116.8,282.8 1117.8,280.3 1118.8,280.4 1119.8,281.5 1120.8,281.0 1121.8,281.3 1122.8,281.7 1123.8,279.7 1124.9,280.0 1125.9,279.8 1127.0,279.0 1128.0,281.4 1129.1,280.9 1130.1,280.6 1131.2,278.4 1132.2,280.8 1133.3,280.4 1134.3,279.5 1135.4,280.2 1136.5,279.3 1137.5,278.5 1138.6,278.1 1139.6,278.4 1140.7,277.7 1141.7,278.6 1142.8,279.7 1143.8,279.5 1144.9,279.9 1145.9,279.5 1146.9,278.1 1148.0,278.9 1149.0,278.5 1150.0,279.5 1151.0,278.7 1152.1,277.9 1153.1,279.0 1154.1,280.0 1155.1,277.7 1156.1,279.7 1157.1,277.1 1158.1,277.9 1159.2,277.8 1160.2,279.3 1161.2,279.9 1162.2,279.4 1163.2,278.1 1164.2,279.8 1165.3,278.2 1166.3,277.9 1167.3,280.0 1168.3,279.2 1169.3,279.4 1170.3,279.4 1171.3,280.3 1172.4,278.9 1173.4,280.0 1174.4,279.6 1175.4,280.2 1176.4,278.9 1177.5,279.9 1178.5,279.4 1179.5,278.7 1180.5,278.5 1181.6,279.7 1182.6,278.2 1183.6,280.7 1184.7,278.5 1185.7,278.1 1186.7,278.4 1187.8,280.9 1188.8,279.2 1189.8,278.7 1190.8,278.4 1191.8,278.5 1192.8,280.4 1193.8,280.3 1194.9,280.6 1195.9,280.7 1196.9,278.8 1198.0,280.4 1199.0,279.8 1200.0,281.2 1201.1,281.2 1202.1,281.5 1203.2,279.1 1204.2,281.5 1205.3,281.7 1206.3,281.9 1207.4,279.4 1208.4,279.8 1209.5,279.6 1210.5,279.4 1211.5,281.9 1212.6,281.8 1213.6,281.4 1214.6,282.0 1215.7,281.5 1216.7,280.5 1217.7,280.0 1218.7,280.1 1219.7,282.1 1220.7,280.5 1221.7,280.9 1222.6,281.3 1223.6,280.1 1224.5,280.9 1225.5,281.0 1226.4,282.4 1227.3,281.4 1228.2,281.3 1229.1,283.3 1230.0,282.0 1231.2,283.1 1232.4,282.5 1233.6,280.9 1234.8,282.1 1236.0,282.3 1237.3,283.4 1238.5,282.2 1239.7,283.4 1240.9,283.0 1242.1,282.1 1243.2,284.1 1244.4,281.9 1245.5,284.2 1246.7,282.4 1247.8,281.9 1248.9,282.6 1249.9,284.4 1250.9,285.2 1251.9,282.3 1252.9,283.9 1253.9,284.0 1254.8,285.0 1255.6,283.2 1256.4,284.2 1257.2,283.9 1258.0,285.4 1258.6,283.7 1259.3,285.8 1259.9,283.9 1260.4,283.7" fill="none" stroke="#000" stroke-width="3.0" stroke-linejoin="round" stroke-linecap="butt"/>
<polyline points="1004.0,446.3 1004.1,445.5 1004.2,444.3 1004.3,444.5 1004.5,442.9 1004.6,443.3 1004.8,442.4 1005.0,441.7 1005.1,440.6 1005.3,439.2 1005.5,438.4 1005.7,437.4 1005.9,437.2 1006.1,434.8 1006.3,435.0 1006.6,432.6 1006.8,431.7 1007.0,430.7 1007.2,430.5 1007.4,428.7 1007.7,427.3 1007.9,426.9 1008.1,424.6 1008.3,423.7 1008.6,422.6 1008.8,421.7 1009.0,420.4 1009.1,419.4 1009.3,418.1 1009.4,417.2 1009.5,416.0 1009.7,416.2 1009.8,415.0 1009.9,414.2 1010.1,412.3 1010.2,411.7 1010.3,411.3 1010.5,410.0 1010.6,408.3 1010.7,407.8 1010.9,407.5 1011.0,405.4 1011.1,404.3 1011.3,403.4 1011.4,403.0 1011.5,402.2 1011.7,400.0 1011.8,399.0 1012.0,398.0 1012.1,397.1 1012.3,396.3 1012.4,394.7 1012.6,393.9 1012.7,392.6 1012.9,392.8 1013.0,391.4 1013.2,389.3 1013.4,389.7 1013.5,387.3 1013.7,386.7 1013.9,386.6 1014.1,385.3 1014.2,384.2 1014.4,382.8 1014.6,381.4 1014.8,381.2 1015.0,379.4 1015.2,378.5 1015.4,377.7 1015.7,376.1 1015.9,375.7 1016.1,375.3 1016.4,374.1 1016.6,372.8 1016.9,372.0 1017.1,370.7 1017.3,369.2 1017.6,368.9 1017.9,367.6 1018.1,367.1 1018.4,366.4 1018.6,364.6 1018.9,363.9 1019.2,363.2 1019.4,361.7 1019.7,360.4 1020.0,360.2 1020.3,359.5 1020.6,358.4 1020.9,357.3 1021.1,356.6 1021.4,355.4 1021.7,354.4 1022.1,353.1 1022.4,352.0 1022.7,351.6 1023.0,349.8 1023.3,349.4 1023.6,349.0 1024.0,348.0 1024.3,347.0 1024.7,345.5 1025.0,344.9 1025.4,343.9 1025.8,343.2 1026.2,341.9 1026.6,341.3 1027.0,340.7 1027.4,338.5 1027.9,338.3 1028.3,337.5 1028.7,335.9 1029.2,335.1 1029.6,335.0 1030.0,332.5 1030.5,332.4 1030.9,330.8 1031.4,330.9 1031.9,330.2 1032.3,328.6 1032.8,327.0 1033.3,326.9 1033.8,325.9 1034.3,325.3 1034.8,324.1 1035.3,323.5 1035.8,322.9 1036.3,321.6 1036.8,320.6 1037.3,320.6 1037.9,318.6 1038.4,318.6 1038.9,317.4 1039.5,317.2 1040.0,315.4 1040.6,315.9 1041.3,314.0 1041.9,312.7 1042.6,312.2 1043.3,311.6 1043.9,310.2 1044.6,310.1 1045.3,309.4 1045.9,309.1 1046.6,307.8 1047.3,306.9 1048.0,306.2 1048.7,306.3 1049.4,305.9 1050.2,304.6 1050.9,303.4 1051.6,303.7 1052.4,302.4 1053.2,301.5 1054.0,300.7 1054.8,301.1 1055.6,300.6 1056.5,299.7 1057.3,298.8 1058.2,298.3 1059.1,297.2 1060.0,297.7 1060.8,296.3 1061.5,296.2 1062.3,296.0 1063.1,295.5 1063.9,294.5 1064.7,293.7 1065.5,293.7 1066.4,292.5 1067.2,293.2 1068.0,292.0 1068.9,292.3 1069.8,290.9 1070.6,290.6 1071.5,290.0 1072.4,289.8 1073.3,289.0 1074.2,288.3 1075.1,289.0 1076.1,287.9 1077.0,287.4 1077.9,287.1 1078.9,287.0 1079.9,286.5 1080.8,286.5 1081.8,286.1 1082.8,285.3 1083.8,285.8 1084.8,285.3 1085.8,283.7 1086.9,284.6 1087.9,284.3 1088.9,283.8 1090.0,282.4 1090.9,283.3 1091.8,282.7 1092.7,281.4 1093.5,281.1 1094.5,282.4 1095.4,281.7 1096.3,280.8 1097.2,280.3 1098.1,280.1 1099.1,280.0 1100.0,280.6 1101.0,279.7 1101.9,279.2 1102.9,280.1 1103.8,279.7 1104.8,278.5 1105.8,279.4 1106.8,278.8 1107.8,278.8 1108.8,278.5 1109.8,278.6 1110.8,278.3 1111.8,278.1 1112.8,276.9 1113.8,277.5 1114.9,277.1 1115.9,277.3 1117.0,276.6 1118.0,277.1 1119.1,276.5 1120.1,275.8 1121.2,275.6 1122.3,275.3 1123.4,275.8 1124.5,274.9 1125.5,275.4 1126.7,274.8 1127.8,275.2 1128.9,275.1 1130.0,275.1 1130.9,275.5 1131.8,274.0 1132.7,275.3 1133.7,274.6 1134.6,274.7 1135.5,274.8 1136.5,275.0 1137.4,274.2 1138.4,274.2 1139.4,275.0 1140.3,273.6 1141.3,274.4 1142.3,274.4 1143.3,273.4 1144.3,274.3 1145.3,274.3 1146.3,274.7 1147.3,273.7 1148.3,274.7 1149.3,274.0 1150.3,273.9 1151.3,274.6 1152.3,273.2 1153.4,274.2 1154.4,274.1 1155.4,273.6 1156.4,274.4 1157.5,273.6 1158.5,273.8 1159.5,273.9 1160.6,274.3 1161.6,273.4 1162.6,273.7 1163.7,273.7 1164.7,273.9 1165.7,274.4 1166.7,273.5 1167.8,274.4 1168.8,273.7 1169.8,273.9 1170.9,273.5 1171.9,273.9 1172.9,274.7 1173.9,274.2 1175.0,274.4 1176.0,273.7 1177.0,273.7 1178.0,273.7 1179.0,274.1 1180.0,274.2 1181.0,274.5 1182.0,273.3 1183.0,274.4 1184.1,274.7 1185.1,274.2 1186.1,273.4 1187.2,273.8 1188.2,273.4 1189.3,273.7 1190.3,274.9 1191.4,274.4 1192.4,274.5 1193.5,274.8 1194.6,275.0 1195.6,274.6 1196.7,274.6 1197.7,274.7 1198.8,274.8 1199.9,274.7 1200.9,274.9 1202.0,274.2 1203.1,274.9 1204.1,274.7 1205.2,275.2 1206.2,274.2 1207.3,274.4 1208.3,274.2 1209.4,275.4 1210.4,275.7 1211.4,275.3 1212.4,274.9 1213.4,275.7 1214.5,275.7 1215.5,275.4 1216.4,274.9 1217.4,275.0 1218.4,275.3 1219.4,275.2 1220.3,275.4 1221.3,275.8 1222.2,276.3 1223.1,274.9 1224.0,275.8 1224.9,275.0 1225.8,275.2 1226.7,276.3 1227.5,276.0 1228.4,276.6 1229.2,275.9 1230.0,275.2 1231.3,275.9 1232.7,276.3 1234.0,276.9 1235.3,277.1 1236.6,276.3 1237.8,276.3 1239.1,275.9 1240.3,276.8 1241.5,276.2 1242.7,276.2 1243.9,276.0 1245.0,276.1 1246.2,277.3 1247.3,276.4 1248.3,277.9 1249.4,276.5 1250.4,277.9 1251.4,276.8 1252.3,276.6 1253.2,277.8 1254.1,277.1 1255.0,278.0 1255.8,277.2 1256.6,277.0 1257.3,278.2 1258.0,278.2 1258.7,278.4 1259.3,278.3 1259.9,277.3 1260.4,278.2" fill="none" stroke="#a0a0a0" stroke-width="5.0" stroke-linejoin="round" stroke-linecap="butt"/>
<polyline points="1004.0,452.3 1004.1,451.4 1004.2,451.5 1004.4,449.8 1004.5,450.1 1004.7,448.9 1004.9,446.9 1005.1,446.0 1005.3,446.0 1005.5,445.3 1005.7,443.0 1005.9,442.3 1006.1,441.8 1006.4,439.8 1006.6,439.7 1006.8,437.9 1007.1,436.1 1007.3,435.4 1007.5,434.5 1007.8,433.1 1008.0,432.3 1008.2,430.6 1008.3,430.7 1008.5,429.1 1008.7,428.6 1008.8,427.7 1009.0,426.4 1009.2,425.4 1009.4,425.1 1009.5,424.3 1009.7,423.1 1009.9,421.8 1010.1,420.3 1010.2,418.9 1010.4,419.4 1010.6,417.9 1010.8,417.1 1011.0,415.3 1011.2,414.7 1011.4,414.2 1011.6,412.9 1011.7,411.5 1011.9,410.0 1012.2,409.1 1012.4,408.8 1012.6,406.9 1012.8,406.4 1013.0,405.2 1013.2,404.7 1013.4,403.6 1013.6,401.9 1013.8,400.5 1013.9,400.0 1014.1,399.3 1014.3,398.7 1014.5,398.2 1014.7,397.4 1014.9,395.1 1015.1,395.5 1015.2,394.5 1015.4,393.7 1015.6,392.3 1015.8,390.9 1016.1,390.9 1016.3,389.8 1016.5,388.7 1016.7,388.0 1016.9,386.1 1017.2,384.7 1017.4,384.4 1017.7,383.7 1018.0,381.7 1018.2,381.4 1018.5,380.6 1018.8,378.3 1019.1,377.7 1019.5,376.6 1019.8,374.9 1020.0,373.7 1020.2,373.0 1020.4,373.0 1020.7,372.2 1020.9,370.8 1021.1,369.3 1021.4,369.5 1021.6,368.6 1021.8,366.8 1022.1,366.4 1022.3,365.9 1022.6,365.0 1022.8,363.4 1023.1,362.3 1023.3,361.5 1023.6,359.9 1023.9,358.9 1024.1,357.8 1024.4,357.6 1024.7,356.1 1024.9,355.4 1025.2,354.1 1025.5,353.2 1025.8,351.6 1026.1,350.4 1026.4,350.9 1026.7,348.8 1027.0,347.4 1027.2,347.2 1027.5,346.4 1027.8,344.3 1028.2,344.0 1028.5,342.6 1028.8,341.9 1029.1,340.1 1029.4,339.1 1029.7,339.6 1030.0,338.5 1030.4,336.9 1030.7,336.1 1031.0,334.6 1031.3,334.5 1031.7,333.0 1032.0,333.0 1032.3,331.8 1032.7,331.0 1033.0,330.4 1033.4,328.4 1033.7,327.3 1034.2,326.5 1034.6,325.4 1035.1,324.2 1035.5,323.1 1036.0,322.9 1036.4,322.4 1036.9,320.8 1037.3,320.6 1037.8,319.6 1038.2,317.3 1038.7,317.2 1039.1,315.9 1039.6,314.6 1040.1,315.0 1040.6,313.0 1041.0,312.6 1041.5,311.8 1042.0,311.5 1042.5,310.2 1043.0,308.9 1043.6,308.1 1044.1,306.8 1044.6,307.3 1045.2,306.5 1045.8,304.5 1046.3,303.4 1046.9,303.0 1047.5,302.4 1048.1,302.5 1048.8,301.7 1049.4,300.9 1050.1,298.9 1050.7,299.3 1051.4,298.5 1052.1,297.7 1052.9,297.5 1053.6,295.3 1054.3,294.8 1055.0,295.2 1055.7,294.8 1056.4,293.8 1057.2,292.6 1058.0,292.5 1058.7,292.1 1059.5,290.5 1060.3,290.3 1061.1,289.6 1062.0,288.8 1062.8,288.8 1063.6,287.8 1064.5,287.3 1065.4,286.7 1066.2,287.0 1067.1,285.4 1068.0,286.0 1068.9,284.7 1069.8,283.9 1070.7,284.8 1071.6,283.2 1072.5,283.9 1073.5,283.3 1074.4,282.9 1075.3,281.2 1076.3,281.3 1077.2,280.3 1078.1,281.2 1079.1,280.6 1080.0,279.9 1081.0,279.2 1081.9,278.6 1082.9,279.0 1083.8,278.1 1084.7,277.9 1085.7,276.8 1086.6,276.6 1087.5,276.0 1088.5,276.7 1089.4,276.1 1090.3,275.1 1091.3,276.0 1092.2,274.7 1093.1,274.6 1094.0,273.9 1095.0,273.9 1095.9,274.5 1096.8,273.4 1097.7,272.9 1098.6,273.2 1099.5,272.7 1100.4,273.5 1101.3,272.0 1102.2,273.2 1103.2,271.5 1104.1,272.7 1105.0,272.1 1105.9,271.2 1106.9,271.5 1107.8,271.1 1108.8,270.9 1109.7,270.7 1110.7,270.8 1111.7,271.7 1112.6,271.6 1113.6,271.3 1114.7,269.9 1115.7,270.1 1116.7,271.0 1117.8,269.5 1118.8,270.5 1119.9,269.7 1121.0,270.8 1122.1,269.1 1123.3,270.3 1124.4,269.5 1125.6,269.1 1126.8,268.8 1128.0,270.1 1129.2,269.5 1130.1,269.0 1130.9,269.3 1131.8,270.1 1132.7,268.9 1133.6,269.5 1134.5,268.7 1135.5,268.8 1136.4,269.7 1137.4,269.6 1138.4,268.8 1139.4,268.6 1140.3,268.6 1141.4,269.5 1142.4,269.3 1143.4,268.9 1144.4,268.8 1145.5,269.5 1146.5,269.7 1147.6,269.9 1148.6,269.5 1149.7,268.9 1150.8,268.8 1151.9,269.9 1152.9,269.4 1154.0,269.9 1155.1,268.9 1156.2,270.1 1157.3,269.4 1158.4,270.2 1159.5,270.3 1160.5,269.8 1161.6,269.1 1162.7,270.5 1163.8,269.9 1164.9,270.6 1166.0,269.6 1167.1,269.6 1168.1,270.6 1169.2,269.9 1170.3,269.7 1171.3,270.0 1172.4,270.4 1173.4,269.6 1174.5,270.4 1175.5,270.4 1176.5,270.5 1177.5,269.9 1178.5,270.9 1179.5,271.1 1180.5,271.2 1181.5,270.4 1182.5,271.1 1183.4,270.6 1184.3,271.2 1185.3,270.2 1186.2,271.5 1187.1,271.7 1187.9,271.0 1188.8,271.0 1190.0,271.1 1191.2,271.1 1192.4,270.4 1193.6,271.9 1194.8,270.8 1195.9,270.8 1197.0,270.7 1198.2,271.0 1199.3,271.9 1200.4,270.7 1201.5,270.9 1202.5,271.9 1203.6,271.1 1204.6,270.9 1205.7,271.9 1206.7,271.9 1207.7,271.9 1208.7,272.2 1209.7,271.3 1210.7,272.6 1211.7,272.4 1212.7,271.4 1213.7,271.6 1214.6,272.2 1215.6,272.3 1216.5,272.0 1217.4,271.8 1218.4,272.3 1219.3,271.9 1220.2,272.7 1221.1,273.1 1222.0,272.1 1222.9,272.8 1223.8,273.1 1224.7,272.2 1225.6,273.3 1226.5,273.5 1227.4,272.7 1228.2,272.8 1229.1,273.5 1230.0,273.0 1231.2,272.9 1232.4,273.8 1233.6,273.6 1234.8,272.9 1236.0,272.8 1237.3,273.0 1238.5,273.2 1239.7,274.1 1240.9,273.9 1242.1,274.1 1243.2,274.0 1244.4,274.1 1245.5,272.8 1246.7,273.6 1247.8,274.4 1248.9,274.4 1249.9,273.3 1250.9,273.6 1251.9,274.0 1252.9,273.6 1253.9,273.9 1254.8,273.1 1255.6,273.7 1256.4,273.9 1257.2,273.1 1258.0,273.3 1258.6,274.7 1259.3,274.4 1259.9,274.7 1260.4,274.2" fill="none" stroke="#cfcfcf" stroke-width="7.0" stroke-linejoin="round" stroke-linecap="butt"/>
<polyline points="1002.9,445.7 1003.0,442.5 1003.1,442.9 1003.2,442.3 1003.3,443.7 1003.4,440.9 1003.5,440.8 1003.6,439.6 1003.7,440.0 1003.8,439.0 1003.9,437.9 1004.1,436.9 1004.2,435.0 1004.3,434.0 1004.5,433.9 1004.6,429.7 1004.8,433.4 1004.9,431.5 1005.1,429.3 1005.2,429.1 1005.4,428.5 1005.6,426.4 1005.7,425.1 1005.9,424.5 1006.1,422.2 1006.2,423.8 1006.4,421.6 1006.6,419.6 1006.8,418.5 1006.9,413.6 1007.1,414.2 1007.3,415.5 1007.5,413.3 1007.7,414.8 1007.8,411.1 1008.0,410.6 1008.2,410.3 1008.4,409.8 1008.5,408.4 1008.7,407.3 1008.9,406.3 1009.1,405.6 1009.2,401.3 1009.4,402.4 1009.6,402.6 1009.7,399.8 1009.9,400.2 1010.1,397.6 1010.2,396.9 1010.4,395.4 1010.5,395.3 1010.7,393.5 1010.8,394.2 1011.0,391.9 1011.1,390.5 1011.3,390.4 1011.4,387.8 1011.6,387.5 1011.7,388.2 1011.9,385.1 1012.0,384.6 1012.2,384.3 1012.3,384.4 1012.5,382.2 1012.6,381.1 1012.8,380.6 1012.9,378.6 1013.1,377.5 1013.2,377.6 1013.4,374.7 1013.5,374.7 1013.7,374.2 1013.9,374.4 1014.0,371.8 1014.2,372.5 1014.3,370.0 1014.5,367.9 1014.7,369.4 1014.8,363.6 1015.0,366.5 1015.2,366.5 1015.3,363.7 1015.5,362.2 1015.7,361.9 1015.9,359.9 1016.1,360.3 1016.2,360.5 1016.4,356.5 1016.6,357.9 1016.8,354.3 1017.0,356.1 1017.2,354.6 1017.4,353.1 1017.6,351.4 1017.8,351.3 1018.0,350.4 1018.2,347.9 1018.5,347.0 1018.7,346.0 1018.9,347.1 1019.2,344.2 1019.4,344.9 1019.6,343.6 1019.9,340.9 1020.1,339.6 1020.4,340.1 1020.6,338.6 1020.9,336.3 1021.1,337.0 1021.4,335.5 1021.6,330.5 1021.9,334.7 1022.1,333.8 1022.4,330.9 1022.6,332.0 1022.9,330.9 1023.2,328.1 1023.4,326.6 1023.7,327.7 1024.0,326.4 1024.2,323.4 1024.5,322.5 1024.8,321.9 1025.1,320.3 1025.4,320.2 1025.6,318.3 1025.9,319.7 1026.2,317.0 1026.5,316.2 1026.8,314.4 1027.1,314.5 1027.4,312.6 1027.7,314.3 1028.0,312.2 1028.3,312.5 1028.6,310.2 1028.9,309.5 1029.2,308.1 1029.5,308.3 1029.8,307.3 1030.3,307.0 1030.7,306.5 1031.2,303.7 1031.7,303.4 1032.1,303.2 1032.6,301.0 1033.1,299.3 1033.6,298.7 1034.0,298.3 1034.5,294.7 1035.0,297.3 1035.5,293.1 1036.0,294.0 1036.5,290.6 1037.0,291.9 1037.5,292.6 1038.1,290.8 1038.6,291.2 1039.1,290.7 1039.7,285.1 1040.2,288.5 1040.8,287.0 1041.4,287.2 1042.0,286.9 1042.5,285.5 1043.2,283.1 1043.8,284.4 1044.4,279.5 1045.0,281.3 1045.7,278.9 1046.4,281.3 1047.1,281.3 1047.9,280.2 1048.6,278.6 1049.4,274.5 1050.2,278.4 1051.0,275.4 1051.7,274.5 1052.6,274.4 1053.4,274.2 1054.2,272.4 1055.0,273.6 1055.9,274.5 1056.7,271.6 1057.6,272.2 1058.5,272.5 1059.3,272.5 1060.2,267.8 1061.1,270.2 1062.0,271.4 1062.9,267.4 1063.9,270.1 1064.8,268.8 1065.7,268.7 1066.6,264.7 1067.6,267.2 1068.5,266.5 1069.5,267.4 1070.4,265.5 1071.3,266.1 1072.2,267.1 1073.2,264.8 1074.1,264.0 1075.1,264.3 1076.1,264.7 1077.0,263.2 1078.0,264.3 1079.0,264.6 1080.0,262.3 1081.0,262.9 1082.0,261.7 1083.1,261.9 1084.1,260.2 1085.1,262.4 1086.1,259.5 1087.2,263.7 1088.2,260.7 1089.2,263.4 1090.2,260.4 1091.3,261.3 1092.3,258.2 1093.3,261.7 1094.4,262.5 1095.4,260.2 1096.4,256.6 1097.4,261.8 1098.4,259.6 1099.4,261.6 1100.4,259.3 1101.4,261.3 1102.4,259.6 1103.4,261.1 1104.4,259.6 1105.4,259.5 1106.4,256.3 1107.4,260.2 1108.3,260.4 1109.3,261.1 1110.3,259.6 1111.2,259.0 1112.2,258.2 1113.2,258.5 1114.2,259.2 1115.2,259.3 1116.2,257.0 1117.2,260.7 1118.2,259.3 1119.2,260.0 1120.3,259.3 1121.3,259.4 1122.4,260.6 1123.5,258.5 1124.6,259.5 1125.7,259.2 1126.8,258.4 1128.0,259.6 1129.2,261.1 1130.1,261.4 1131.0,260.3 1131.9,258.5 1132.9,260.3 1133.8,260.2 1134.8,260.0 1135.7,259.5 1136.7,259.3 1137.7,260.8 1138.7,259.0 1139.7,260.0 1140.7,260.2 1141.7,260.7 1142.8,259.4 1143.8,261.9 1144.8,259.5 1145.9,257.4 1146.9,260.2 1148.0,261.2 1149.0,258.7 1150.1,259.1 1151.1,260.0 1152.2,262.6 1153.2,262.2 1154.3,260.4 1155.4,259.2 1156.4,261.5 1157.5,263.4 1158.6,262.9 1159.6,260.9 1160.7,259.1 1161.7,261.5 1162.8,263.2 1163.8,263.9 1164.9,263.9 1165.9,264.2 1166.9,261.9 1168.0,262.6 1169.0,263.8 1170.0,262.1 1171.0,264.2 1172.0,261.5 1173.0,262.4 1174.0,261.4 1175.0,264.5 1176.1,263.1 1177.1,265.3 1178.1,261.2 1179.1,265.5 1180.2,264.8 1181.2,265.4 1182.2,263.8 1183.2,265.2 1184.3,266.2 1185.3,263.9 1186.3,264.4 1187.3,266.9 1188.4,264.4 1189.4,267.0 1190.4,265.8 1191.4,265.3 1192.4,266.2 1193.4,264.7 1194.4,265.9 1195.4,265.2 1196.4,266.7 1197.4,267.5 1198.4,264.2 1199.4,264.5 1200.3,267.3 1201.3,268.4 1202.3,267.3 1203.2,267.4 1204.1,268.4 1205.1,267.3 1206.0,269.5 1206.9,269.6 1207.8,269.3 1208.7,268.3 1209.8,270.4 1211.0,269.9 1212.1,270.3 1213.2,269.7 1214.3,269.3 1215.5,267.3 1216.6,269.5 1217.6,270.2 1218.7,269.6 1219.8,270.1 1220.9,269.1 1221.9,270.7 1223.0,271.2 1224.0,267.8 1225.0,270.7 1226.1,271.6 1227.1,271.1 1228.1,269.9 1229.1,272.1 1230.0,271.5 1231.0,271.9 1232.0,270.9 1232.9,273.7 1233.8,269.7 1234.8,271.9 1235.7,271.9 1236.6,272.0 1237.4,274.3 1238.3,272.3 1239.2,274.8 1240.0,272.2 1241.3,274.9 1242.6,272.8 1243.8,274.3 1245.1,274.8 1246.3,273.7 1247.6,275.7 1248.8,274.8 1249.9,272.3 1251.1,274.1 1252.2,275.3 1253.2,276.3 1254.2,272.7 1255.2,276.6 1256.1,275.2 1257.0,277.5 1257.8,275.7 1258.5,276.0 1259.2,276.0 1259.9,277.1 1260.4,277.8" fill="none" stroke="#000" stroke-width="5.5" stroke-linejoin="round" stroke-linecap="butt"/>
<polyline points="1032.1,306.7 1032.6,305.4 1033.1,303.3 1033.6,304.0 1034.0,301.1 1034.5,302.0 1035.0,301.3 1035.5,300.4 1036.0,297.7 1036.5,298.7 1037.0,298.7 1037.5,295.7 1038.1,294.2 1038.6,294.4 1039.1,295.3 1039.7,291.3 1040.2,290.0 1040.8,291.2 1041.4,291.1 1042.0,290.9 1042.5,288.5 1043.2,290.3 1043.8,286.6 1044.4,288.0 1045.0,284.6 1045.7,283.7 1046.4,283.4 1047.1,282.4 1047.9,283.5 1048.6,283.0 1049.4,280.9 1050.2,283.3 1051.0,280.4 1051.7,278.9 1052.6,278.4 1053.4,280.1 1054.2,280.2 1055.0,276.6 1055.9,275.6 1056.7,278.0 1057.6,275.4 1058.5,277.8 1059.3,275.4 1060.2,275.5 1061.1,273.8 1062.0,275.2 1062.9,273.4 1063.9,272.4 1064.8,274.3 1065.7,270.7 1066.6,272.8 1067.6,269.7 1068.5,271.7 1069.5,270.3 1070.4,271.8 1071.3,268.3 1072.2,270.0 1073.2,269.0 1074.1,270.8 1075.1,270.6 1076.1,269.1 1077.0,267.2 1078.0,267.0 1079.0,266.8 1080.0,267.3 1081.0,266.3 1082.0,265.9 1083.1,267.9 1084.1,267.3 1085.1,265.7 1086.1,268.3 1087.2,265.0 1088.2,266.3 1089.2,264.5 1090.2,267.1 1091.3,267.0 1092.3,264.5 1093.3,266.3 1094.4,266.4 1095.4,264.1 1096.4,264.2 1097.4,264.7 1098.4,266.2 1099.4,263.1 1100.4,265.1 1101.4,264.7 1102.4,264.0 1103.4,264.4 1104.4,265.5 1105.4,262.8 1106.4,265.4 1107.4,263.2 1108.3,264.9 1109.3,265.1 1110.3,262.4 1111.2,265.1 1112.2,265.6 1113.2,262.8 1114.2,261.6 1115.2,262.0 1116.2,265.4 1117.2,261.6 1118.2,265.2 1119.2,262.1 1120.3,264.5 1121.3,262.0 1122.4,262.3 1123.5,264.3 1124.6,262.0 1125.7,263.0 1126.8,265.4 1128.0,264.6 1129.2,265.3 1130.1,265.8 1131.0,262.0 1131.9,262.9 1132.9,265.1 1133.8,264.8 1134.8,262.2 1135.7,264.1 1136.7,263.1 1137.7,264.0 1138.7,262.7 1139.7,262.5 1140.7,266.4 1141.7,263.8 1142.8,266.1 1143.8,263.2 1144.8,264.7 1145.9,263.4 1146.9,264.7 1148.0,263.8 1149.0,265.9 1150.1,263.8 1151.1,266.3 1152.2,265.4 1153.2,264.0 1154.3,265.0 1155.4,265.7 1156.4,267.5 1157.5,265.3 1158.6,264.9 1159.6,268.0 1160.7,267.8 1161.7,267.3 1162.8,265.6 1163.8,265.3 1164.9,265.8 1165.9,265.1 1166.9,265.1 1168.0,267.1 1169.0,266.8 1170.0,267.5 1171.0,266.9 1172.0,265.6 1173.0,268.4 1174.0,268.4 1175.0,268.1 1176.1,268.3 1177.1,269.0 1178.1,270.3 1179.1,270.0 1180.2,269.5 1181.2,268.4 1182.2,268.2 1183.2,268.8 1184.3,271.1 1185.3,269.0 1186.3,269.1 1187.3,269.4 1188.4,268.4 1189.4,272.0 1190.4,268.2 1191.4,270.8 1192.4,272.2 1193.4,269.7 1194.4,271.3 1195.4,270.5 1196.4,270.1 1197.4,270.1 1198.4,269.9 1199.4,273.0 1200.3,272.9 1201.3,273.5 1202.3,270.2 1203.2,273.0 1204.1,271.6 1205.1,273.0 1206.0,272.8 1206.9,272.0 1207.8,274.8 1208.7,271.0 1209.8,274.1 1211.0,274.7 1212.1,273.5 1213.2,274.0 1214.3,275.8 1215.5,272.9 1216.6,274.6 1217.6,275.2 1218.7,273.9 1219.8,275.4 1220.9,274.3 1221.9,275.0 1223.0,275.5 1224.0,275.9 1225.0,274.6 1226.1,275.9 1227.1,275.7 1228.1,274.6 1229.1,276.3 1230.0,275.1 1231.0,277.8 1232.0,276.2 1232.9,277.3 1233.8,276.6 1234.8,276.6 1235.7,275.7 1236.6,275.5 1237.4,278.8 1238.3,277.3 1239.2,277.5 1240.0,277.6 1241.3,279.0 1242.6,276.9 1243.8,276.9 1245.1,279.7 1246.3,278.5 1247.6,279.4 1248.8,280.4 1249.9,280.9 1251.1,281.0 1252.2,278.0 1253.2,279.5 1254.2,281.5 1255.2,281.7 1256.1,279.1 1257.0,279.4 1257.8,280.0 1258.5,279.5 1259.2,280.7 1259.9,282.6 1260.4,281.6" fill="none" stroke="#000" stroke-width="5.0" stroke-linejoin="round" stroke-linecap="butt"/>
<polyline points="1180.0,275.1 1180.5,279.0 1181.1,276.9 1181.8,278.3 1182.6,275.8 1183.4,276.7 1184.2,276.3 1185.1,276.7 1186.1,275.5 1187.1,276.3 1188.1,278.5 1189.2,277.0 1190.3,277.0 1191.5,279.3 1192.6,277.6 1193.8,278.5 1195.0,276.3 1196.3,277.7 1197.5,277.5 1198.8,279.0 1200.0,277.9 1200.8,278.9 1201.7,277.4 1202.6,279.6 1203.5,279.4 1204.4,277.1 1205.4,278.4 1206.3,279.0 1207.3,278.1 1208.3,279.0 1209.3,280.6 1210.3,279.2 1211.3,279.1 1212.3,279.5 1213.3,280.2 1214.4,277.1 1215.4,279.9 1216.5,279.3 1217.5,278.2 1218.6,276.2 1219.6,278.2 1220.7,281.0 1221.7,278.5 1222.8,280.0 1223.8,282.4 1224.9,282.0 1225.9,279.9 1227.0,278.7 1228.0,279.9 1229.0,280.2 1230.0,282.4 1231.0,281.1 1232.1,279.4 1233.1,282.8 1234.2,282.9 1235.3,278.5 1236.5,281.2 1237.6,281.8 1238.8,281.4 1239.9,280.9 1241.1,280.8 1242.3,282.5 1243.4,282.8 1244.6,281.7 1245.7,281.9 1246.9,284.1 1248.0,282.9 1249.1,283.0 1250.2,281.5 1251.2,281.7 1252.2,281.8 1253.2,282.4 1254.2,284.0 1255.1,283.9 1255.9,284.7 1256.7,283.0 1257.5,282.8 1258.2,281.7 1258.9,285.5 1259.5,284.1 1260.0,283.5" fill="none" stroke="#000" stroke-width="5.0" stroke-linejoin="round" stroke-linecap="butt"/>
<polyline points="1261.5,285.0 1261.5,285.5 1261.5,286.1 1261.5,286.7 1261.5,287.3 1261.5,288.0 1261.5,288.7 1261.6,289.5 1261.6,290.2 1261.6,291.0 1261.6,291.9 1261.6,292.7 1261.6,293.6 1261.6,294.6 1261.6,295.5 1261.6,296.5 1261.6,297.5 1261.7,298.5 1261.7,299.5 1261.7,300.6 1261.7,301.6 1261.7,302.7 1261.7,303.8 1261.7,304.9 1261.7,306.1 1261.8,307.2 1261.8,308.3 1261.8,309.5 1261.8,310.6 1261.8,311.8 1261.8,313.0 1261.8,314.1 1261.8,315.3 1261.9,316.5 1261.9,317.6 1261.9,318.8 1261.9,320.0 1261.9,321.1 1261.9,322.3 1261.9,323.4 1261.9,324.5 1262.0,325.7 1262.0,326.8 1262.0,327.9 1262.0,328.9 1262.0,330.0 1262.0,331.0 1262.0,331.9 1262.0,332.9 1262.0,333.9 1262.0,334.9 1262.1,335.9 1262.1,336.9 1262.1,338.0 1262.1,339.0 1262.1,340.0 1262.1,341.1 1262.1,342.1 1262.1,343.2 1262.1,344.3 1262.1,345.3 1262.1,346.4 1262.2,347.5 1262.2,348.5 1262.2,349.6 1262.2,350.7 1262.2,351.8 1262.2,352.8 1262.2,353.9 1262.2,355.0 1262.2,356.1 1262.2,357.1 1262.2,358.2 1262.2,359.2 1262.3,360.3 1262.3,361.3 1262.3,362.4 1262.3,363.4 1262.3,364.4 1262.3,365.5 1262.3,366.5 1262.3,367.5 1262.3,368.4 1262.3,369.4 1262.4,370.4 1262.4,371.3 1262.4,372.3 1262.4,373.2 1262.4,374.1 1262.4,375.0 1262.4,375.9 1262.4,376.7 1262.5,377.6 1262.5,378.4 1262.5,379.2 1262.5,380.0 1262.5,381.4 1262.6,382.7 1262.6,384.0 1262.6,385.2 1262.6,386.4 1262.7,387.5 1262.7,388.6 1262.7,389.7 1262.7,390.7 1262.8,391.7 1262.8,392.7 1262.8,393.7 1262.8,394.6 1262.9,395.5 1262.9,396.4 1262.9,397.3 1263.0,398.2 1263.0,399.1 1263.1,399.9 1263.1,400.8 1263.1,401.7 1263.2,402.5 1263.2,403.4 1263.3,404.3 1263.3,405.2 1263.4,406.1 1263.4,407.1 1263.5,408.0 1263.6,409.1 1263.7,410.2 1263.7,411.4 1263.8,412.5 1263.9,413.7 1264.1,414.9 1264.2,416.1 1264.3,417.3 1264.4,418.5 1264.5,419.7 1264.6,420.9 1264.8,422.1 1264.9,423.2 1265.0,424.3 1265.1,425.4 1265.2,426.5 1265.3,427.5 1265.4,428.5 1265.5,429.4 1265.6,430.3 1265.7,431.2 1265.8,431.9 1265.9,432.6 1265.9,433.2 1266.0,433.8" fill="none" stroke="#8a8a8a" stroke-width="2.2" stroke-linejoin="round" stroke-linecap="butt"/>
<polyline points="1263.5,408.4 1263.6,407.9 1263.6,408.3 1263.7,410.3 1263.7,409.9 1263.8,412.3 1263.9,412.2 1263.9,413.1 1264.0,414.8 1264.1,415.4 1264.2,417.0 1264.2,417.4 1264.3,420.1 1264.4,420.1 1264.5,422.4 1264.6,422.2 1264.7,424.7 1264.9,426.3 1265.0,426.3 1265.1,426.7 1265.2,428.6 1265.4,430.2 1265.5,430.4 1265.7,432.1 1265.8,432.1 1266.0,433.7 1266.3,435.5 1266.5,436.1 1266.8,437.7 1267.0,437.7 1267.3,440.2 1267.6,439.9 1267.9,442.5 1268.2,443.7 1268.5,444.5 1268.9,444.6 1269.2,445.1 1269.6,446.1 1270.0,447.7 1270.5,448.0 1271.0,449.7 1271.5,448.8 1272.0,450.4 1272.6,452.0 1273.3,452.2 1274.0,452.8 1274.7,452.6 1275.4,453.3 1276.1,454.2 1276.9,456.0 1277.7,456.5 1278.6,455.7 1279.5,457.7 1280.5,456.4 1281.5,458.0 1282.6,459.2 1283.8,458.5 1285.0,460.2 1285.8,459.9 1286.5,459.0 1287.3,459.9 1288.2,460.4 1289.0,460.3 1289.8,461.6 1290.7,460.7 1291.6,462.2 1292.5,461.5 1293.4,461.4 1294.4,462.6 1295.3,462.0 1296.3,463.1 1297.3,463.9 1298.3,463.7 1299.4,463.7 1300.5,463.1 1301.6,464.3 1302.7,463.7 1303.8,465.0 1305.0,464.2 1306.2,465.3 1307.5,465.0 1308.7,465.3 1310.0,466.0 1310.8,465.1 1311.7,465.3 1312.5,466.9 1313.4,465.8 1314.3,466.9 1315.2,467.0 1316.1,466.3 1317.1,465.7 1318.0,465.7 1319.0,467.4 1319.9,465.9 1320.9,466.7 1321.9,466.9 1322.9,466.1 1323.9,466.9 1325.0,466.3 1326.0,467.1 1327.0,467.1 1328.1,466.9 1329.1,466.6 1330.2,467.0 1331.2,466.7 1332.3,466.6 1333.4,466.9 1334.4,468.2 1335.5,467.5 1336.5,468.3 1337.6,466.6 1338.7,468.5 1339.7,467.6 1340.8,468.3 1341.8,467.9 1342.9,468.2 1343.9,467.3 1344.9,468.4 1346.0,467.3 1347.0,467.5 1348.0,467.1 1349.0,467.9 1350.0,468.2 1351.0,467.9 1352.1,469.1 1353.1,467.6 1354.2,468.6 1355.3,468.0 1356.4,468.8 1357.6,469.3 1358.7,469.2 1359.9,468.0 1361.0,468.4 1362.2,469.2 1363.4,470.0 1364.5,468.2 1365.7,469.5 1366.8,469.7 1368.0,470.0 1369.2,469.1 1370.3,470.2 1371.4,469.5 1372.6,470.5 1373.7,468.8 1374.8,470.7 1375.8,469.7 1376.9,469.8 1377.9,469.2 1378.9,469.6 1379.9,470.7 1380.9,470.6 1381.8,469.6 1382.7,470.1 1383.5,469.7 1384.4,469.9 1385.2,470.0 1385.9,470.3 1386.6,471.6 1387.3,471.7 1387.9,471.3 1388.5,470.7 1389.0,470.8" fill="none" stroke="#808080" stroke-width="5.5" stroke-linejoin="round" stroke-linecap="butt"/>
<polyline points="1262.0,290.5 1262.0,291.3 1262.0,291.6 1262.1,292.1 1262.1,292.1 1262.1,293.8 1262.2,295.1 1262.2,295.9 1262.2,295.7 1262.3,297.9 1262.3,298.3 1262.3,299.1 1262.4,301.7 1262.4,302.3 1262.5,303.6 1262.5,303.7 1262.6,306.1 1262.6,307.5 1262.7,308.6 1262.7,309.4 1262.8,310.7 1262.8,311.7 1262.9,312.4 1262.9,313.1 1263.0,314.7 1263.0,315.5 1263.1,316.9 1263.1,317.0 1263.2,319.4 1263.3,319.7 1263.3,321.5 1263.4,321.1 1263.5,323.6 1263.6,324.3 1263.6,324.3 1263.7,326.3 1263.8,326.1 1263.9,327.0 1264.0,328.4 1264.1,328.9 1264.2,330.2 1264.4,331.9 1264.5,332.3 1264.7,333.5 1264.9,334.1 1265.2,335.9 1265.4,337.0 1265.7,337.9 1266.0,339.4 1266.3,340.2 1266.6,340.5 1266.9,340.8 1267.2,342.8 1267.5,344.0 1267.7,343.9 1268.0,345.2 1268.4,346.9 1268.9,347.8 1269.3,347.3 1269.7,348.9 1270.1,348.9 1270.5,350.1 1271.0,352.6 1271.3,352.7 1271.5,353.8 1271.7,354.5 1271.9,355.2 1272.0,355.9 1272.2,357.2 1272.5,359.1 1272.8,359.7 1273.2,360.2 1273.7,361.0 1274.3,362.4 1275.0,364.4 1275.4,364.5 1275.9,365.6 1276.4,366.5 1276.9,366.0 1277.4,367.7 1278.0,367.3 1278.6,369.4 1279.2,369.0 1279.8,369.9 1280.5,371.9 1281.1,371.5 1281.8,372.1 1282.5,374.0 1283.3,374.3 1284.0,375.6 1284.8,375.4 1285.6,376.4 1286.5,378.0 1287.3,378.0 1288.2,379.6 1289.1,379.0 1290.0,380.9 1290.7,380.2 1291.3,381.5 1292.0,381.1 1292.7,382.0 1293.4,383.9 1294.2,383.6 1294.9,384.9 1295.6,384.5 1296.4,385.3 1297.1,385.4 1297.9,386.8 1298.7,388.0 1299.5,388.0 1300.3,388.3 1301.1,389.9 1302.0,390.5 1302.8,390.6 1303.7,390.2 1304.6,391.8 1305.4,392.0 1306.3,393.5 1307.2,393.0 1308.2,394.1 1309.1,394.6 1310.0,394.7 1311.0,395.5 1312.0,396.3 1313.0,397.3 1314.0,397.0 1315.0,397.3 1316.0,398.9 1316.8,397.6 1317.7,399.3 1318.5,399.4 1319.4,399.6 1320.3,399.7 1321.2,400.6 1322.1,401.2 1323.1,401.2 1324.0,401.6 1325.0,400.6 1325.9,401.5 1326.9,401.5 1327.9,403.2 1328.9,403.4 1329.9,402.4 1330.9,403.5 1331.9,403.8 1332.9,403.1 1333.9,404.0 1334.9,404.9 1336.0,405.0 1337.0,404.7 1338.0,405.8 1339.1,405.2 1340.1,406.0 1341.1,406.0 1342.1,407.3 1343.2,407.0 1344.2,407.5 1345.2,407.6 1346.2,407.3 1347.2,408.6 1348.2,408.4 1349.2,408.6 1350.2,408.2 1351.1,408.2 1352.1,409.2 1353.1,409.9 1354.0,410.1 1355.0,409.6 1356.1,409.5 1357.1,410.5 1358.2,411.4 1359.3,410.4 1360.4,411.8 1361.5,411.0 1362.7,411.6 1363.8,411.4 1364.9,412.2 1366.1,412.6 1367.2,413.9 1368.3,414.2 1369.4,413.1 1370.6,413.6 1371.7,415.0 1372.8,414.0 1373.9,414.5 1375.0,414.9 1376.0,414.6 1377.0,415.1 1378.1,415.6 1379.1,415.8 1380.0,417.1 1381.0,416.1 1381.9,416.2 1382.8,417.7 1383.6,417.1 1384.4,418.0 1385.2,417.8 1386.0,418.2 1386.7,417.6 1387.3,417.5 1387.9,418.7 1388.5,418.3 1389.0,418.6" fill="none" stroke="#a0a0a0" stroke-width="5.5" stroke-linejoin="round" stroke-linecap="butt"/>
<polyline points="1262.0,291.3 1262.1,292.0 1262.3,291.8 1262.4,292.8 1262.6,294.7 1262.8,295.0 1263.1,295.7 1263.6,297.6 1264.2,298.2 1265.0,300.5 1265.4,299.8 1265.8,301.9 1266.3,302.1 1266.8,302.5 1267.3,304.3 1267.8,303.9 1268.4,304.6 1269.0,305.1 1269.6,306.8 1270.2,308.1 1270.8,308.8 1271.5,309.2 1272.2,310.7 1272.9,310.3 1273.6,311.5 1274.3,313.0 1275.0,314.4 1275.7,314.6 1276.5,315.5 1277.2,316.4 1278.0,316.4 1278.7,318.0 1279.4,318.3 1280.2,318.2 1280.9,319.0 1281.7,320.3 1282.5,320.2 1283.3,320.5 1284.2,322.3 1285.0,322.3 1285.8,322.9 1286.7,323.8 1287.6,324.8 1288.4,324.0 1289.3,324.9 1290.2,325.0 1291.0,326.2 1291.9,326.9 1292.8,328.0 1293.6,328.2 1294.5,328.6 1295.3,328.8 1296.2,329.6 1297.0,329.6 1297.9,331.2 1298.8,331.6 1299.7,332.2 1300.6,331.5 1301.5,332.9 1302.4,333.5 1303.3,333.5 1304.2,334.7 1305.1,335.2 1306.0,335.3 1307.0,335.9 1307.9,336.0 1308.8,336.9 1309.7,336.0 1310.6,337.4 1311.5,337.8 1312.4,338.1 1313.3,337.9 1314.2,337.9 1315.1,339.3 1316.0,340.1 1316.9,339.5 1317.9,339.8 1318.8,340.3 1319.8,340.4 1320.7,341.9 1321.7,342.8 1322.6,342.9 1323.6,342.5 1324.5,343.5 1325.5,342.7 1326.4,344.5 1327.4,343.9 1328.3,343.7 1329.3,345.2 1330.2,344.7 1331.2,345.3 1332.1,345.2 1333.1,346.3 1334.0,346.8 1335.0,347.6 1335.9,346.5 1336.9,348.2 1337.8,347.2 1338.6,347.6 1339.5,348.6 1340.4,348.3 1341.2,348.5 1342.1,349.2 1343.0,348.8 1343.8,350.0 1344.7,349.2 1345.7,350.6 1346.6,350.8 1347.6,350.5 1348.6,349.9 1349.7,351.5 1350.9,350.4 1352.0,351.6 1353.3,351.8 1354.6,351.5 1355.4,352.8 1356.2,353.2 1357.1,353.2 1358.1,353.1 1359.0,353.6 1360.0,354.0 1361.1,353.6 1362.1,355.1 1363.2,355.6 1364.4,355.6 1365.5,356.2 1366.6,355.4 1367.8,356.9 1368.9,355.6 1370.1,356.6 1371.3,356.3 1372.4,357.2 1373.6,358.0 1374.8,358.3 1375.9,358.2 1377.0,358.3 1378.1,358.4 1379.2,359.0 1380.2,359.1 1381.2,359.3 1382.2,360.5 1383.2,360.4 1384.1,360.5 1384.9,360.3 1385.8,361.5 1386.5,360.8 1387.2,361.1 1387.9,361.8 1388.5,362.2 1389.0,362.9" fill="none" stroke="#d3d3d3" stroke-width="7.0" stroke-linejoin="round" stroke-linecap="butt"/>
<polyline points="1262.5,268.0 1263.0,268.7 1263.7,265.9 1264.3,265.2 1265.1,268.2 1265.9,266.4 1266.7,266.1 1267.6,269.5 1268.6,265.8 1269.5,267.2 1270.6,269.1 1271.6,264.3 1272.7,269.2 1273.8,270.2 1274.9,269.5 1276.1,269.7 1277.3,267.0 1278.4,268.7 1279.6,264.5 1280.8,269.8 1282.0,271.0 1283.2,270.1 1284.4,270.6 1285.5,265.9 1286.7,269.9 1287.8,267.8 1288.9,271.0 1290.0,268.2 1291.0,267.9 1291.9,270.7 1292.9,270.3 1293.8,269.3 1294.8,272.2 1295.8,269.1 1296.7,269.3 1297.7,270.8 1298.7,271.6 1299.6,268.0 1300.6,269.6 1301.6,271.1 1302.6,272.5 1303.5,272.3 1304.5,271.8 1305.5,273.6 1306.5,270.4 1307.5,274.2 1308.5,272.0 1309.5,273.9 1310.6,271.7 1311.6,274.7 1312.6,269.0 1313.6,274.8 1314.7,274.0 1315.7,274.0 1316.8,272.6 1317.8,271.8 1318.9,272.3 1320.0,274.8 1320.9,275.4 1321.9,271.2 1322.8,276.0 1323.8,272.5 1324.7,274.9 1325.7,274.8 1326.7,275.3 1327.7,270.7 1328.7,274.4 1329.7,273.4 1330.7,273.6 1331.7,276.9 1332.7,274.3 1333.7,274.8 1334.7,274.6 1335.7,276.5 1336.7,274.8 1337.8,278.0 1338.8,275.1 1339.8,276.1 1340.8,275.6 1341.9,279.1 1342.9,273.4 1343.9,278.2 1344.9,277.7 1345.9,277.4 1347.0,278.5 1348.0,279.0 1349.0,279.8 1350.0,276.3 1351.0,279.9 1352.0,280.1 1353.0,280.5 1354.0,279.7 1355.0,278.2 1356.0,275.9 1357.1,281.2 1358.2,281.1 1359.3,280.9 1360.4,280.7 1361.5,278.8 1362.6,278.0 1363.8,281.6 1364.9,279.5 1366.1,281.5 1367.3,281.7 1368.4,279.1 1369.6,280.0 1370.8,280.4 1371.9,282.9 1373.1,281.3 1374.2,281.5 1375.3,281.1 1376.4,282.3 1377.5,280.0 1378.5,281.0 1379.6,280.0 1380.6,282.9 1381.5,280.9 1382.5,283.0 1383.4,283.3 1384.2,281.4 1385.0,280.7 1385.8,281.5 1386.6,284.6 1387.3,283.2 1387.9,283.3 1388.5,280.3 1389.0,281.1" fill="none" stroke="#000" stroke-width="8.0" stroke-linejoin="round" stroke-linecap="butt"/>
<polyline points="1262.5,274.9 1263.0,280.1 1263.7,277.1 1264.3,275.5 1265.1,277.9 1265.9,278.1 1266.7,276.7 1267.6,277.8 1268.6,276.6 1269.5,277.5 1270.6,280.2 1271.6,276.8 1272.7,280.9 1273.8,279.9 1274.9,280.0 1276.1,275.9 1277.3,279.0 1278.4,280.0 1279.6,276.0 1280.8,278.3 1282.0,279.5 1283.2,278.6 1284.4,279.2 1285.5,279.3 1286.7,281.9 1287.8,280.2 1288.9,279.7 1290.0,279.8 1291.0,280.5 1291.9,281.1 1292.9,279.4 1293.8,283.0 1294.8,279.5 1295.8,280.0 1296.7,281.7 1297.7,281.9 1298.7,280.9 1299.6,279.2 1300.6,282.3 1301.6,281.5 1302.6,283.7 1303.5,284.4 1304.5,282.6 1305.5,283.2 1306.5,281.8 1307.5,280.8 1308.5,285.4 1309.5,283.2 1310.6,283.0 1311.6,284.6 1312.6,282.4 1313.6,284.1 1314.7,282.2 1315.7,283.1 1316.8,285.7 1317.8,283.6 1318.9,285.3 1320.0,283.4 1320.9,287.1 1321.9,286.8 1322.8,287.1 1323.8,284.3 1324.7,286.1 1325.7,283.6 1326.7,284.2 1327.7,287.0 1328.7,288.0 1329.7,285.0 1330.7,285.1 1331.7,286.4 1332.7,286.5 1333.7,287.1 1334.7,288.2 1335.7,289.0 1336.7,285.7 1337.8,286.3 1338.8,286.5 1339.8,285.2 1340.8,285.9 1341.9,285.3 1342.9,286.6 1343.9,288.0 1344.9,286.3 1345.9,286.3 1347.0,286.5 1348.0,288.3 1349.0,288.8 1350.0,287.0 1351.0,288.3 1352.0,290.4 1353.0,290.4 1354.0,287.9 1355.0,286.7 1356.0,286.1 1357.1,288.3 1358.2,291.0 1359.3,289.6 1360.4,291.0 1361.5,288.6 1362.6,290.6 1363.8,291.4 1364.9,292.2 1366.1,288.4 1367.3,290.7 1368.4,291.4 1369.6,289.6 1370.8,291.0 1371.9,289.1 1373.1,291.7 1374.2,292.0 1375.3,289.2 1376.4,292.3 1377.5,292.3 1378.5,293.8 1379.6,290.7 1380.6,294.0 1381.5,291.7 1382.5,294.0 1383.4,293.4 1384.2,293.2 1385.0,290.9 1385.8,291.4 1386.6,290.7 1387.3,292.4 1387.9,291.0 1388.5,294.9 1389.0,292.4" fill="none" stroke="#000" stroke-width="8.0" stroke-linejoin="round" stroke-linecap="butt"/>
<line x1="1262.20" y1="262.00" x2="1262.20" y2="292.00" stroke="#000" stroke-width="3.0" />
<line x1="872.60" y1="11.80" x2="872.60" y2="151.60" stroke="#000" stroke-width="2.6" />
<line x1="871.30" y1="13.10" x2="1391.50" y2="13.10" stroke="#000" stroke-width="2.6" />
<line x1="858.30" y1="151.60" x2="887.00" y2="151.60" stroke="#000" stroke-width="2.6" />
<line x1="864.30" y1="13.10" x2="872.60" y2="13.10" stroke="#000" stroke-width="2.6" />
<line x1="864.30" y1="82.30" x2="872.60" y2="82.30" stroke="#000" stroke-width="2.6" />
<line x1="858.30" y1="195.50" x2="887.00" y2="195.50" stroke="#000" stroke-width="2.6" />
<line x1="872.60" y1="195.50" x2="872.60" y2="539.60" stroke="#000" stroke-width="2.6" />
<line x1="1390.20" y1="11.80" x2="1390.20" y2="532.30" stroke="#000" stroke-width="2.6" />
<line x1="864.30" y1="531.00" x2="1391.50" y2="531.00" stroke="#000" stroke-width="2.6" />
<line x1="864.30" y1="278.90" x2="872.60" y2="278.90" stroke="#000" stroke-width="2.6" />
<line x1="864.30" y1="362.80" x2="872.60" y2="362.80" stroke="#000" stroke-width="2.6" />
<line x1="864.30" y1="446.90" x2="872.60" y2="446.90" stroke="#000" stroke-width="2.6" />
<line x1="1001.80" y1="531.00" x2="1001.80" y2="539.60" stroke="#000" stroke-width="2.6" />
<line x1="1131.30" y1="531.00" x2="1131.30" y2="539.60" stroke="#000" stroke-width="2.6" />
<line x1="1260.90" y1="531.00" x2="1260.90" y2="539.60" stroke="#000" stroke-width="2.6" />
<text x="857.20" y="24.10" font-size="31.5" text-anchor="end" >6</text>
<text x="857.20" y="93.30" font-size="31.5" text-anchor="end" >4</text>
<text x="857.20" y="162.60" font-size="31.5" text-anchor="end" >2</text>
<text x="857.20" y="206.50" font-size="31.5" text-anchor="end" >1.5</text>
<text x="857.20" y="289.90" font-size="31.5" text-anchor="end" >1.0</text>
<text x="857.20" y="373.80" font-size="31.5" text-anchor="end" >0.5</text>
<text x="857.20" y="457.90" font-size="31.5" text-anchor="end" >0.0</text>
<text x="857.20" y="542.00" font-size="31.5" text-anchor="end" >-0.5</text>
<text x="872.60" y="577.20" font-size="31.5" text-anchor="middle" >0</text>
<text x="1001.80" y="577.20" font-size="31.5" text-anchor="middle" >5</text>
<text x="1131.30" y="577.20" font-size="31.5" text-anchor="middle" >10</text>
<text x="1260.90" y="577.20" font-size="31.5" text-anchor="middle" >15</text>
<text x="1390.20" y="577.20" font-size="31.5" text-anchor="middle" >20</text>
<text x="1130.20" y="630.50" font-size="31.8" text-anchor="middle" >time (min)</text>
<text transform="translate(782.60,278.30) rotate(-90)" font-size="33.0" text-anchor="middle" textLength="345.5" lengthAdjust="spacingAndGlyphs">Normalized fluorescence</text>
<polygon points="1002.2,464.2 1013.7,492.1 990.6,492.1" fill="#000"/>
<text x="1004.90" y="513.00" font-size="24.5" text-anchor="middle" textLength="79.0" lengthAdjust="spacingAndGlyphs" >colistin</text>
<line x1="1261.50" y1="197.80" x2="1261.50" y2="222.50" stroke="#000" stroke-width="3.0" />
<polygon points="1249.9,221.3 1272.9,221.3 1261.4,250.4" fill="#000"/>
<text x="1261.10" y="154.70" font-size="25.2" text-anchor="middle" textLength="124.7" lengthAdjust="spacingAndGlyphs" >Compound</text>
<text x="1261.30" y="185.90" font-size="25.2" text-anchor="middle" textLength="118.1" lengthAdjust="spacingAndGlyphs" >(or DMSO)</text>
<rect x="165.10" y="939.10" width="64.00" height="289.40" fill="#000"/>
<rect x="262.10" y="954.30" width="64.00" height="274.20" fill="#000"/>
<rect x="359.10" y="986.20" width="64.00" height="242.30" fill="#d3d3d3"/>
<rect x="456.00" y="989.60" width="64.00" height="238.90" fill="#a0a0a0"/>
<rect x="553.00" y="976.50" width="64.00" height="252.00" fill="#808080"/>
<circle cx="196.40" cy="889.70" r="5.8" fill="#fff" stroke="#000" stroke-width="2.3"/>
<circle cx="180.70" cy="904.10" r="5.8" fill="#fff" stroke="#000" stroke-width="2.3"/>
<circle cx="212.90" cy="910.80" r="5.8" fill="#fff" stroke="#000" stroke-width="2.3"/>
<circle cx="196.40" cy="952.60" r="5.8" fill="#fff" stroke="#000" stroke-width="2.3"/>
<circle cx="180.70" cy="987.00" r="5.8" fill="#fff" stroke="#000" stroke-width="2.3"/>
<circle cx="212.90" cy="990.40" r="5.8" fill="#fff" stroke="#000" stroke-width="2.3"/>
<circle cx="293.40" cy="907.00" r="5.8" fill="#fff" stroke="#000" stroke-width="2.3"/>
<circle cx="277.50" cy="931.90" r="5.8" fill="#fff" stroke="#000" stroke-width="2.3"/>
<circle cx="277.50" cy="948.60" r="5.8" fill="#fff" stroke="#000" stroke-width="2.3"/>
<circle cx="309.70" cy="921.00" r="5.8" fill="#fff" stroke="#000" stroke-width="2.3"/>
<circle cx="309.70" cy="966.00" r="5.8" fill="#fff" stroke="#000" stroke-width="2.3"/>
<circle cx="277.50" cy="1001.00" r="5.8" fill="#fff" stroke="#000" stroke-width="2.3"/>
<circle cx="309.70" cy="1003.80" r="5.8" fill="#fff" stroke="#000" stroke-width="2.3"/>
<circle cx="390.70" cy="942.00" r="5.8" fill="#fff" stroke="#000" stroke-width="2.3"/>
<circle cx="374.70" cy="975.00" r="5.8" fill="#fff" stroke="#000" stroke-width="2.3"/>
<circle cx="374.70" cy="982.70" r="5.8" fill="#fff" stroke="#000" stroke-width="2.3"/>
<circle cx="407.00" cy="969.30" r="5.8" fill="#fff" stroke="#000" stroke-width="2.3"/>
<circle cx="407.00" cy="997.10" r="5.8" fill="#fff" stroke="#000" stroke-width="2.3"/>
<circle cx="374.70" cy="1010.50" r="5.8" fill="#fff" stroke="#000" stroke-width="2.3"/>
<circle cx="407.00" cy="1021.50" r="5.8" fill="#fff" stroke="#000" stroke-width="2.3"/>
<circle cx="498.60" cy="959.30" r="5.8" fill="#fff" stroke="#000" stroke-width="2.3"/>
<circle cx="477.00" cy="969.10" r="5.8" fill="#fff" stroke="#000" stroke-width="2.3"/>
<circle cx="466.30" cy="983.30" r="5.8" fill="#fff" stroke="#000" stroke-width="2.3"/>
<circle cx="488.00" cy="986.60" r="5.8" fill="#fff" stroke="#000" stroke-width="2.3"/>
<circle cx="509.20" cy="1000.50" r="5.8" fill="#fff" stroke="#000" stroke-width="2.3"/>
<circle cx="477.00" cy="1007.30" r="5.8" fill="#fff" stroke="#000" stroke-width="2.3"/>
<circle cx="498.60" cy="1018.10" r="5.8" fill="#fff" stroke="#000" stroke-width="2.3"/>
<circle cx="584.90" cy="904.10" r="5.8" fill="#fff" stroke="#000" stroke-width="2.3"/>
<circle cx="584.90" cy="962.60" r="5.8" fill="#fff" stroke="#000" stroke-width="2.3"/>
<circle cx="584.90" cy="980.00" r="5.8" fill="#fff" stroke="#000" stroke-width="2.3"/>
<circle cx="559.90" cy="983.30" r="5.8" fill="#fff" stroke="#000" stroke-width="2.3"/>
<circle cx="572.10" cy="990.70" r="5.8" fill="#fff" stroke="#000" stroke-width="2.3"/>
<circle cx="584.90" cy="990.70" r="5.8" fill="#fff" stroke="#000" stroke-width="2.3"/>
<circle cx="597.00" cy="997.20" r="5.8" fill="#fff" stroke="#000" stroke-width="2.3"/>
<circle cx="609.70" cy="1000.50" r="5.8" fill="#fff" stroke="#000" stroke-width="2.3"/>
<line x1="196.60" y1="895.50" x2="196.60" y2="982.70" stroke="#000" stroke-width="2.4" />
<line x1="188.85" y1="895.50" x2="204.35" y2="895.50" stroke="#000" stroke-width="2.4" />
<line x1="188.85" y1="982.70" x2="204.35" y2="982.70" stroke="#000" stroke-width="2.4" />
<line x1="293.60" y1="916.20" x2="293.60" y2="992.00" stroke="#000" stroke-width="2.4" />
<line x1="285.85" y1="916.20" x2="301.35" y2="916.20" stroke="#000" stroke-width="2.4" />
<line x1="285.85" y1="992.00" x2="301.35" y2="992.00" stroke="#000" stroke-width="2.4" />
<line x1="390.80" y1="959.30" x2="390.80" y2="1012.40" stroke="#000" stroke-width="2.4" />
<line x1="383.05" y1="959.30" x2="398.55" y2="959.30" stroke="#000" stroke-width="2.4" />
<line x1="383.05" y1="1012.40" x2="398.55" y2="1012.40" stroke="#000" stroke-width="2.4" />
<line x1="488.00" y1="968.60" x2="488.00" y2="1009.50" stroke="#000" stroke-width="2.4" />
<line x1="480.25" y1="968.60" x2="495.75" y2="968.60" stroke="#000" stroke-width="2.4" />
<line x1="480.25" y1="1009.50" x2="495.75" y2="1009.50" stroke="#000" stroke-width="2.4" />
<line x1="584.90" y1="944.60" x2="584.90" y2="1007.30" stroke="#000" stroke-width="2.4" />
<line x1="577.15" y1="944.60" x2="592.65" y2="944.60" stroke="#000" stroke-width="2.4" />
<line x1="577.15" y1="1007.30" x2="592.65" y2="1007.30" stroke="#000" stroke-width="2.4" />
<text x="293.50" y="886.80" font-size="33.0" text-anchor="middle" >ns</text>
<text x="390.70" y="920.40" font-size="33.0" text-anchor="middle" >ns</text>
<text x="488.00" y="938.40" font-size="33.0" text-anchor="middle" >ns</text>
<text x="585.00" y="885.30" font-size="33.0" text-anchor="middle" >ns</text>
<line x1="132.20" y1="709.15" x2="132.20" y2="1229.75" stroke="#000" stroke-width="2.5" />
<line x1="130.95" y1="710.40" x2="651.25" y2="710.40" stroke="#000" stroke-width="2.5" />
<line x1="650.00" y1="709.15" x2="650.00" y2="1229.75" stroke="#000" stroke-width="2.5" />
<line x1="123.50" y1="1228.50" x2="651.25" y2="1228.50" stroke="#000" stroke-width="2.5" />
<text x="116.50" y="1239.90" font-size="32.8" text-anchor="end" >0.00</text>
<line x1="123.50" y1="1055.80" x2="132.20" y2="1055.80" stroke="#000" stroke-width="2.5" />
<text x="116.50" y="1067.20" font-size="32.8" text-anchor="end" >0.05</text>
<line x1="123.50" y1="883.10" x2="132.20" y2="883.10" stroke="#000" stroke-width="2.5" />
<text x="116.50" y="894.50" font-size="32.8" text-anchor="end" >0.10</text>
<line x1="123.50" y1="710.40" x2="132.20" y2="710.40" stroke="#000" stroke-width="2.5" />
<text x="116.50" y="721.80" font-size="32.8" text-anchor="end" >0.15</text>
<line x1="197.40" y1="1228.50" x2="197.40" y2="1236.70" stroke="#000" stroke-width="2.5" />
<line x1="293.90" y1="1228.50" x2="293.90" y2="1236.70" stroke="#000" stroke-width="2.5" />
<line x1="390.90" y1="1228.50" x2="390.90" y2="1236.70" stroke="#000" stroke-width="2.5" />
<line x1="487.80" y1="1228.50" x2="487.80" y2="1236.70" stroke="#000" stroke-width="2.5" />
<line x1="584.30" y1="1228.50" x2="584.30" y2="1236.70" stroke="#000" stroke-width="2.5" />
<text x="195.20" y="1272.70" font-size="32.8" text-anchor="middle" >Saline</text>
<text x="292.90" y="1272.70" font-size="32.8" text-anchor="middle" >DMSO</text>
<text x="389.10" y="1272.70" font-size="32.8" text-anchor="middle" >6.25</text>
<text x="486.80" y="1272.70" font-size="32.8" text-anchor="middle" >12.5</text>
<text x="584.30" y="1272.70" font-size="32.8" text-anchor="middle" >25</text>
<line x1="370.50" y1="1284.00" x2="596.70" y2="1284.00" stroke="#000" stroke-width="2.4" />
<text x="481.10" y="1318.00" font-size="31.6" text-anchor="middle" >CA439 (<tspan style="font-family:'Liberation Serif',serif">μ</tspan>M)</text>
<text transform="translate(26.10,976.30) rotate(-90)" font-size="33" text-anchor="middle">A<tspan font-size="25.5" dy="7.9">492 nm</tspan></text>
<rect x="163.45" y="1557.70" width="64.00" height="351.30" fill="#000"/>
<rect x="260.35" y="1544.60" width="64.00" height="364.40" fill="#000"/>
<rect x="357.35" y="1566.30" width="64.00" height="342.70" fill="#d3d3d3"/>
<rect x="454.35" y="1542.50" width="64.00" height="366.50" fill="#a0a0a0"/>
<rect x="551.30" y="1524.60" width="64.00" height="384.40" fill="#808080"/>
<circle cx="195.30" cy="1479.10" r="5.8" fill="#fff" stroke="#000" stroke-width="2.3"/>
<circle cx="179.10" cy="1572.10" r="5.8" fill="#fff" stroke="#000" stroke-width="2.3"/>
<circle cx="211.40" cy="1574.90" r="5.8" fill="#fff" stroke="#000" stroke-width="2.3"/>
<circle cx="195.30" cy="1604.50" r="5.8" fill="#fff" stroke="#000" stroke-width="2.3"/>
<circle cx="291.90" cy="1496.30" r="5.8" fill="#fff" stroke="#000" stroke-width="2.3"/>
<circle cx="275.80" cy="1535.00" r="5.8" fill="#fff" stroke="#000" stroke-width="2.3"/>
<circle cx="308.20" cy="1551.40" r="5.8" fill="#fff" stroke="#000" stroke-width="2.3"/>
<circle cx="291.90" cy="1594.10" r="5.8" fill="#fff" stroke="#000" stroke-width="2.3"/>
<circle cx="373.00" cy="1544.30" r="5.8" fill="#fff" stroke="#000" stroke-width="2.3"/>
<circle cx="405.00" cy="1553.70" r="5.8" fill="#fff" stroke="#000" stroke-width="2.3"/>
<circle cx="373.00" cy="1581.10" r="5.8" fill="#fff" stroke="#000" stroke-width="2.3"/>
<circle cx="405.00" cy="1584.00" r="5.8" fill="#fff" stroke="#000" stroke-width="2.3"/>
<circle cx="469.90" cy="1518.20" r="5.8" fill="#fff" stroke="#000" stroke-width="2.3"/>
<circle cx="502.20" cy="1519.20" r="5.8" fill="#fff" stroke="#000" stroke-width="2.3"/>
<circle cx="486.30" cy="1549.00" r="5.8" fill="#fff" stroke="#000" stroke-width="2.3"/>
<circle cx="486.30" cy="1580.30" r="5.8" fill="#fff" stroke="#000" stroke-width="2.3"/>
<circle cx="583.30" cy="1476.90" r="5.8" fill="#fff" stroke="#000" stroke-width="2.3"/>
<circle cx="583.30" cy="1519.20" r="5.8" fill="#fff" stroke="#000" stroke-width="2.3"/>
<circle cx="583.30" cy="1538.60" r="5.8" fill="#fff" stroke="#000" stroke-width="2.3"/>
<circle cx="583.30" cy="1562.40" r="5.8" fill="#fff" stroke="#000" stroke-width="2.3"/>
<line x1="195.30" y1="1502.80" x2="195.30" y2="1612.60" stroke="#000" stroke-width="2.4" />
<line x1="187.55" y1="1502.80" x2="203.05" y2="1502.80" stroke="#000" stroke-width="2.4" />
<line x1="187.55" y1="1612.60" x2="203.05" y2="1612.60" stroke="#000" stroke-width="2.4" />
<line x1="291.90" y1="1503.80" x2="291.90" y2="1585.40" stroke="#000" stroke-width="2.4" />
<line x1="284.15" y1="1503.80" x2="299.65" y2="1503.80" stroke="#000" stroke-width="2.4" />
<line x1="284.15" y1="1585.40" x2="299.65" y2="1585.40" stroke="#000" stroke-width="2.4" />
<line x1="389.30" y1="1545.60" x2="389.30" y2="1584.90" stroke="#000" stroke-width="2.4" />
<line x1="381.55" y1="1545.60" x2="397.05" y2="1545.60" stroke="#000" stroke-width="2.4" />
<line x1="381.55" y1="1584.90" x2="397.05" y2="1584.90" stroke="#000" stroke-width="2.4" />
<line x1="486.30" y1="1513.20" x2="486.30" y2="1571.40" stroke="#000" stroke-width="2.4" />
<line x1="478.55" y1="1513.20" x2="494.05" y2="1513.20" stroke="#000" stroke-width="2.4" />
<line x1="478.55" y1="1571.40" x2="494.05" y2="1571.40" stroke="#000" stroke-width="2.4" />
<line x1="583.30" y1="1488.30" x2="583.30" y2="1560.00" stroke="#000" stroke-width="2.4" />
<line x1="575.55" y1="1488.30" x2="591.05" y2="1488.30" stroke="#000" stroke-width="2.4" />
<line x1="575.55" y1="1560.00" x2="591.05" y2="1560.00" stroke="#000" stroke-width="2.4" />
<text x="292.40" y="1475.60" font-size="33.0" text-anchor="middle" >ns</text>
<text x="389.30" y="1523.50" font-size="33.0" text-anchor="middle" >ns</text>
<text x="486.30" y="1495.30" font-size="33.0" text-anchor="middle" >ns</text>
<text x="583.30" y="1458.50" font-size="33.0" text-anchor="middle" >ns</text>
<line x1="130.80" y1="1389.85" x2="130.80" y2="1910.25" stroke="#000" stroke-width="2.5" />
<line x1="129.55" y1="1391.10" x2="649.75" y2="1391.10" stroke="#000" stroke-width="2.5" />
<line x1="648.50" y1="1389.85" x2="648.50" y2="1910.25" stroke="#000" stroke-width="2.5" />
<line x1="121.90" y1="1909.00" x2="649.75" y2="1909.00" stroke="#000" stroke-width="2.5" />
<text x="116.50" y="1920.40" font-size="32.8" text-anchor="end" >0.00</text>
<line x1="121.90" y1="1835.01" x2="130.80" y2="1835.01" stroke="#000" stroke-width="2.5" />
<text x="116.50" y="1846.41" font-size="32.8" text-anchor="end" >0.05</text>
<line x1="121.90" y1="1761.03" x2="130.80" y2="1761.03" stroke="#000" stroke-width="2.5" />
<text x="116.50" y="1772.43" font-size="32.8" text-anchor="end" >0.10</text>
<line x1="121.90" y1="1687.04" x2="130.80" y2="1687.04" stroke="#000" stroke-width="2.5" />
<text x="116.50" y="1698.44" font-size="32.8" text-anchor="end" >0.15</text>
<line x1="121.90" y1="1613.06" x2="130.80" y2="1613.06" stroke="#000" stroke-width="2.5" />
<text x="116.50" y="1624.46" font-size="32.8" text-anchor="end" >0.20</text>
<line x1="121.90" y1="1539.07" x2="130.80" y2="1539.07" stroke="#000" stroke-width="2.5" />
<text x="116.50" y="1550.47" font-size="32.8" text-anchor="end" >0.25</text>
<line x1="121.90" y1="1465.09" x2="130.80" y2="1465.09" stroke="#000" stroke-width="2.5" />
<text x="116.50" y="1476.49" font-size="32.8" text-anchor="end" >0.30</text>
<line x1="121.90" y1="1391.10" x2="130.80" y2="1391.10" stroke="#000" stroke-width="2.5" />
<text x="116.50" y="1402.50" font-size="32.8" text-anchor="end" >0.35</text>
<line x1="197.40" y1="1909.00" x2="197.40" y2="1917.20" stroke="#000" stroke-width="2.5" />
<line x1="293.90" y1="1909.00" x2="293.90" y2="1917.20" stroke="#000" stroke-width="2.5" />
<line x1="390.90" y1="1909.00" x2="390.90" y2="1917.20" stroke="#000" stroke-width="2.5" />
<line x1="487.80" y1="1909.00" x2="487.80" y2="1917.20" stroke="#000" stroke-width="2.5" />
<line x1="584.30" y1="1909.00" x2="584.30" y2="1917.20" stroke="#000" stroke-width="2.5" />
<text x="195.20" y="1952.80" font-size="32.8" text-anchor="middle" >Saline</text>
<text x="292.90" y="1952.80" font-size="32.8" text-anchor="middle" >DMSO</text>
<text x="389.10" y="1952.80" font-size="32.8" text-anchor="middle" >6.25</text>
<text x="486.80" y="1952.80" font-size="32.8" text-anchor="middle" >12.5</text>
<text x="584.30" y="1952.80" font-size="32.8" text-anchor="middle" >25</text>
<line x1="367.00" y1="1963.20" x2="592.70" y2="1963.20" stroke="#000" stroke-width="2.4" />
<text x="475.70" y="1997.60" font-size="31.6" text-anchor="middle" >CA439 (<tspan style="font-family:'Liberation Serif',serif">μ</tspan>M)</text>
<text transform="translate(24.80,1656.50) rotate(-90)" font-size="33" text-anchor="middle">A<tspan font-size="25.5" dy="7.9">405 nm</tspan></text>
<rect x="879.40" y="1065.00" width="13.70" height="159.10" fill="#000"/>
<rect x="901.60" y="1072.00" width="13.40" height="152.10" fill="#808080"/>
<rect x="937.70" y="1045.30" width="13.70" height="178.80" fill="#000"/>
<rect x="959.90" y="1070.00" width="13.40" height="154.10" fill="#808080"/>
<rect x="996.00" y="1044.00" width="13.70" height="180.10" fill="#000"/>
<rect x="1018.20" y="1056.00" width="13.40" height="168.10" fill="#808080"/>
<rect x="1054.30" y="1030.00" width="13.70" height="194.10" fill="#000"/>
<rect x="1076.50" y="937.60" width="13.40" height="286.50" fill="#808080"/>
<rect x="1112.60" y="1011.00" width="13.70" height="213.10" fill="#000"/>
<rect x="1134.80" y="885.00" width="13.40" height="339.10" fill="#808080"/>
<rect x="1170.90" y="951.00" width="13.70" height="273.10" fill="#000"/>
<rect x="1193.10" y="886.00" width="13.40" height="338.10" fill="#808080"/>
<rect x="1229.20" y="887.70" width="13.70" height="336.40" fill="#000"/>
<rect x="1251.40" y="882.50" width="13.40" height="341.60" fill="#808080"/>
<rect x="1287.50" y="862.00" width="13.70" height="362.10" fill="#000"/>
<rect x="1309.70" y="877.60" width="13.40" height="346.50" fill="#808080"/>
<rect x="1345.80" y="858.00" width="13.70" height="366.10" fill="#000"/>
<rect x="1368.00" y="878.90" width="13.40" height="345.20" fill="#808080"/>
<circle cx="886.30" cy="1039.00" r="5.8" fill="#fff" stroke="#000" stroke-width="2.3"/>
<circle cx="886.30" cy="1045.80" r="5.8" fill="#fff" stroke="#000" stroke-width="2.3"/>
<circle cx="886.30" cy="1055.50" r="5.8" fill="#fff" stroke="#000" stroke-width="2.3"/>
<circle cx="886.30" cy="1066.60" r="5.8" fill="#fff" stroke="#000" stroke-width="2.3"/>
<circle cx="886.30" cy="1087.50" r="5.8" fill="#fff" stroke="#000" stroke-width="2.3"/>
<circle cx="908.00" cy="1054.70" r="5.8" fill="#fff" stroke="#000" stroke-width="2.3"/>
<circle cx="908.00" cy="1062.90" r="5.8" fill="#fff" stroke="#000" stroke-width="2.3"/>
<circle cx="908.00" cy="1066.60" r="5.8" fill="#fff" stroke="#000" stroke-width="2.3"/>
<circle cx="908.00" cy="1070.40" r="5.8" fill="#fff" stroke="#000" stroke-width="2.3"/>
<circle cx="908.00" cy="1080.80" r="5.8" fill="#fff" stroke="#000" stroke-width="2.3"/>
<circle cx="908.00" cy="1101.70" r="5.8" fill="#fff" stroke="#000" stroke-width="2.3"/>
<circle cx="944.30" cy="1025.60" r="5.8" fill="#fff" stroke="#000" stroke-width="2.3"/>
<circle cx="944.30" cy="1031.30" r="5.8" fill="#fff" stroke="#000" stroke-width="2.3"/>
<circle cx="944.30" cy="1089.80" r="5.8" fill="#fff" stroke="#000" stroke-width="2.3"/>
<circle cx="966.60" cy="1058.40" r="5.8" fill="#fff" stroke="#000" stroke-width="2.3"/>
<circle cx="966.60" cy="1064.40" r="5.8" fill="#fff" stroke="#000" stroke-width="2.3"/>
<circle cx="966.60" cy="1089.80" r="5.8" fill="#fff" stroke="#000" stroke-width="2.3"/>
<circle cx="1003.20" cy="1022.60" r="5.8" fill="#fff" stroke="#000" stroke-width="2.3"/>
<circle cx="1003.20" cy="1031.30" r="5.8" fill="#fff" stroke="#000" stroke-width="2.3"/>
<circle cx="1003.20" cy="1086.00" r="5.8" fill="#fff" stroke="#000" stroke-width="2.3"/>
<circle cx="1025.10" cy="1040.50" r="5.8" fill="#fff" stroke="#000" stroke-width="2.3"/>
<circle cx="1025.10" cy="1050.20" r="5.8" fill="#fff" stroke="#000" stroke-width="2.3"/>
<circle cx="1025.10" cy="1054.70" r="5.8" fill="#fff" stroke="#000" stroke-width="2.3"/>
<circle cx="1025.10" cy="1083.80" r="5.8" fill="#fff" stroke="#000" stroke-width="2.3"/>
<circle cx="1061.60" cy="1007.00" r="5.8" fill="#fff" stroke="#000" stroke-width="2.3"/>
<circle cx="1061.60" cy="1027.90" r="5.8" fill="#fff" stroke="#000" stroke-width="2.3"/>
<circle cx="1061.60" cy="1035.30" r="5.8" fill="#fff" stroke="#000" stroke-width="2.3"/>
<circle cx="1083.20" cy="928.00" r="5.8" fill="#fff" stroke="#000" stroke-width="2.3"/>
<circle cx="1083.20" cy="934.80" r="5.8" fill="#fff" stroke="#000" stroke-width="2.3"/>
<circle cx="1083.20" cy="953.30" r="5.8" fill="#fff" stroke="#000" stroke-width="2.3"/>
<circle cx="1120.00" cy="1003.50" r="5.8" fill="#fff" stroke="#000" stroke-width="2.3"/>
<circle cx="1120.00" cy="1008.00" r="5.8" fill="#fff" stroke="#000" stroke-width="2.3"/>
<circle cx="1120.00" cy="1012.20" r="5.8" fill="#fff" stroke="#000" stroke-width="2.3"/>
<circle cx="1141.60" cy="872.20" r="5.8" fill="#fff" stroke="#000" stroke-width="2.3"/>
<circle cx="1141.60" cy="882.90" r="5.8" fill="#fff" stroke="#000" stroke-width="2.3"/>
<circle cx="1141.60" cy="893.50" r="5.8" fill="#fff" stroke="#000" stroke-width="2.3"/>
<circle cx="1178.10" cy="928.30" r="5.8" fill="#fff" stroke="#000" stroke-width="2.3"/>
<circle cx="1178.10" cy="944.70" r="5.8" fill="#fff" stroke="#000" stroke-width="2.3"/>
<circle cx="1178.10" cy="947.80" r="5.8" fill="#fff" stroke="#000" stroke-width="2.3"/>
<circle cx="1178.10" cy="953.60" r="5.8" fill="#fff" stroke="#000" stroke-width="2.3"/>
<circle cx="1178.10" cy="957.50" r="5.8" fill="#fff" stroke="#000" stroke-width="2.3"/>
<circle cx="1200.40" cy="862.20" r="5.8" fill="#fff" stroke="#000" stroke-width="2.3"/>
<circle cx="1200.40" cy="884.60" r="5.8" fill="#fff" stroke="#000" stroke-width="2.3"/>
<circle cx="1200.40" cy="891.00" r="5.8" fill="#fff" stroke="#000" stroke-width="2.3"/>
<circle cx="1200.40" cy="903.70" r="5.8" fill="#fff" stroke="#000" stroke-width="2.3"/>
<circle cx="1236.60" cy="840.50" r="5.8" fill="#fff" stroke="#000" stroke-width="2.3"/>
<circle cx="1236.60" cy="847.60" r="5.8" fill="#fff" stroke="#000" stroke-width="2.3"/>
<circle cx="1236.60" cy="872.50" r="5.8" fill="#fff" stroke="#000" stroke-width="2.3"/>
<circle cx="1236.60" cy="880.20" r="5.8" fill="#fff" stroke="#000" stroke-width="2.3"/>
<circle cx="1236.60" cy="881.70" r="5.8" fill="#fff" stroke="#000" stroke-width="2.3"/>
<circle cx="1236.60" cy="946.80" r="5.8" fill="#fff" stroke="#000" stroke-width="2.3"/>
<circle cx="1258.60" cy="836.70" r="5.8" fill="#fff" stroke="#000" stroke-width="2.3"/>
<circle cx="1258.60" cy="845.00" r="5.8" fill="#fff" stroke="#000" stroke-width="2.3"/>
<circle cx="1258.60" cy="870.00" r="5.8" fill="#fff" stroke="#000" stroke-width="2.3"/>
<circle cx="1258.60" cy="889.10" r="5.8" fill="#fff" stroke="#000" stroke-width="2.3"/>
<circle cx="1258.60" cy="912.10" r="5.8" fill="#fff" stroke="#000" stroke-width="2.3"/>
<circle cx="1258.60" cy="932.60" r="5.8" fill="#fff" stroke="#000" stroke-width="2.3"/>
<circle cx="1294.80" cy="836.70" r="5.8" fill="#fff" stroke="#000" stroke-width="2.3"/>
<circle cx="1294.80" cy="838.60" r="5.8" fill="#fff" stroke="#000" stroke-width="2.3"/>
<circle cx="1294.80" cy="858.40" r="5.8" fill="#fff" stroke="#000" stroke-width="2.3"/>
<circle cx="1294.80" cy="863.60" r="5.8" fill="#fff" stroke="#000" stroke-width="2.3"/>
<circle cx="1294.80" cy="880.80" r="5.8" fill="#fff" stroke="#000" stroke-width="2.3"/>
<circle cx="1294.80" cy="907.70" r="5.8" fill="#fff" stroke="#000" stroke-width="2.3"/>
<circle cx="1316.60" cy="841.20" r="5.8" fill="#fff" stroke="#000" stroke-width="2.3"/>
<circle cx="1316.60" cy="851.40" r="5.8" fill="#fff" stroke="#000" stroke-width="2.3"/>
<circle cx="1316.60" cy="875.10" r="5.8" fill="#fff" stroke="#000" stroke-width="2.3"/>
<circle cx="1316.60" cy="905.10" r="5.8" fill="#fff" stroke="#000" stroke-width="2.3"/>
<circle cx="1316.60" cy="924.70" r="5.8" fill="#fff" stroke="#000" stroke-width="2.3"/>
<circle cx="1353.20" cy="822.60" r="5.8" fill="#fff" stroke="#000" stroke-width="2.3"/>
<circle cx="1353.20" cy="843.70" r="5.8" fill="#fff" stroke="#000" stroke-width="2.3"/>
<circle cx="1353.20" cy="858.40" r="5.8" fill="#fff" stroke="#000" stroke-width="2.3"/>
<circle cx="1353.20" cy="866.10" r="5.8" fill="#fff" stroke="#000" stroke-width="2.3"/>
<circle cx="1353.20" cy="888.50" r="5.8" fill="#fff" stroke="#000" stroke-width="2.3"/>
<circle cx="1375.40" cy="839.90" r="5.8" fill="#fff" stroke="#000" stroke-width="2.3"/>
<circle cx="1375.40" cy="845.00" r="5.8" fill="#fff" stroke="#000" stroke-width="2.3"/>
<circle cx="1375.40" cy="872.50" r="5.8" fill="#fff" stroke="#000" stroke-width="2.3"/>
<circle cx="1375.40" cy="883.40" r="5.8" fill="#fff" stroke="#000" stroke-width="2.3"/>
<circle cx="1375.40" cy="887.20" r="5.8" fill="#fff" stroke="#000" stroke-width="2.3"/>
<circle cx="1375.40" cy="909.60" r="5.8" fill="#fff" stroke="#000" stroke-width="2.3"/>
<line x1="886.25" y1="1045.92" x2="886.25" y2="1084.08" stroke="#000" stroke-width="2.2" />
<line x1="908.30" y1="1055.45" x2="908.30" y2="1088.55" stroke="#000" stroke-width="2.2" />
<line x1="944.55" y1="1009.77" x2="944.55" y2="1080.83" stroke="#000" stroke-width="2.2" />
<line x1="966.60" y1="1053.33" x2="966.60" y2="1086.67" stroke="#000" stroke-width="2.2" />
<line x1="1002.85" y1="1009.63" x2="1002.85" y2="1078.37" stroke="#000" stroke-width="2.2" />
<line x1="1024.90" y1="1037.37" x2="1024.90" y2="1074.63" stroke="#000" stroke-width="2.2" />
<line x1="1061.15" y1="1015.32" x2="1061.15" y2="1044.68" stroke="#000" stroke-width="2.2" />
<line x1="1083.20" y1="924.51" x2="1083.20" y2="950.69" stroke="#000" stroke-width="2.2" />
<line x1="1119.45" y1="1006.65" x2="1119.45" y2="1015.35" stroke="#000" stroke-width="2.2" />
<line x1="1141.50" y1="874.35" x2="1141.50" y2="895.65" stroke="#000" stroke-width="2.2" />
<line x1="1177.75" y1="939.74" x2="1177.75" y2="962.26" stroke="#000" stroke-width="2.2" />
<line x1="1199.80" y1="868.63" x2="1199.80" y2="903.37" stroke="#000" stroke-width="2.2" />
<line x1="1236.05" y1="849.98" x2="1236.05" y2="925.42" stroke="#000" stroke-width="2.2" />
<line x1="1258.10" y1="844.88" x2="1258.10" y2="920.12" stroke="#000" stroke-width="2.2" />
<line x1="1294.35" y1="835.12" x2="1294.35" y2="888.88" stroke="#000" stroke-width="2.2" />
<line x1="1316.40" y1="842.34" x2="1316.40" y2="912.86" stroke="#000" stroke-width="2.2" />
<line x1="1352.65" y1="833.35" x2="1352.65" y2="882.65" stroke="#000" stroke-width="2.2" />
<line x1="1374.70" y1="852.33" x2="1374.70" y2="905.47" stroke="#000" stroke-width="2.2" />
<path d="M885.70,1024.90 V1015.20 H910.30 V1024.90" fill="none" stroke="#000" stroke-width="2.75" stroke-linecap="butt" stroke-linejoin="miter"/>
<path d="M944.60,1003.30 V993.60 H969.60 V1003.30" fill="none" stroke="#000" stroke-width="2.75" stroke-linecap="butt" stroke-linejoin="miter"/>
<path d="M1004.20,1007.00 V997.30 H1029.90 V1007.00" fill="none" stroke="#000" stroke-width="2.75" stroke-linecap="butt" stroke-linejoin="miter"/>
<path d="M1061.10,908.70 V898.70 H1085.40 V908.70" fill="none" stroke="#000" stroke-width="2.75" stroke-linecap="butt" stroke-linejoin="miter"/>
<path d="M1118.40,854.10 V844.20 H1142.10 V854.10" fill="none" stroke="#000" stroke-width="2.75" stroke-linecap="butt" stroke-linejoin="miter"/>
<path d="M1177.70,846.20 V836.40 H1201.40 V846.20" fill="none" stroke="#000" stroke-width="2.75" stroke-linecap="butt" stroke-linejoin="miter"/>
<path d="M1236.60,820.10 V810.50 H1261.50 V820.10" fill="none" stroke="#000" stroke-width="2.75" stroke-linecap="butt" stroke-linejoin="miter"/>
<path d="M1293.50,821.40 V811.80 H1317.80 V821.40" fill="none" stroke="#000" stroke-width="2.75" stroke-linecap="butt" stroke-linejoin="miter"/>
<path d="M1349.10,808.00 V798.40 H1374.70 V808.00" fill="none" stroke="#000" stroke-width="2.75" stroke-linecap="butt" stroke-linejoin="miter"/>
<text x="897.90" y="1005.50" font-size="23.3" text-anchor="middle" >ns</text>
<text x="957.00" y="986.10" font-size="23.3" text-anchor="middle" >ns</text>
<text x="1016.50" y="986.80" font-size="23.3" text-anchor="middle" >ns</text>
<text x="1073.10" y="895.30" font-size="22" text-anchor="middle" textLength="29.2" lengthAdjust="spacing" >***</text>
<text x="1130.30" y="843.00" font-size="22" text-anchor="middle" textLength="38.9" lengthAdjust="spacing" >****</text>
<text x="1189.60" y="835.30" font-size="22" text-anchor="middle" textLength="29.0" lengthAdjust="spacing" >***</text>
<text x="1250.00" y="802.80" font-size="23.3" text-anchor="middle" >ns</text>
<text x="1305.60" y="804.10" font-size="23.3" text-anchor="middle" >ns</text>
<text x="1362.00" y="790.00" font-size="23.3" text-anchor="middle" >ns</text>
<line x1="871.70" y1="705.15" x2="871.70" y2="1225.35" stroke="#000" stroke-width="2.5" />
<line x1="870.45" y1="706.40" x2="1390.75" y2="706.40" stroke="#000" stroke-width="2.5" />
<line x1="1389.50" y1="705.15" x2="1389.50" y2="1225.35" stroke="#000" stroke-width="2.5" />
<line x1="863.20" y1="1224.10" x2="1390.75" y2="1224.10" stroke="#000" stroke-width="2.5" />
<text x="855.40" y="1235.40" font-size="32.3" text-anchor="end" >0.00</text>
<line x1="863.20" y1="1120.56" x2="871.70" y2="1120.56" stroke="#000" stroke-width="2.5" />
<text x="855.40" y="1131.86" font-size="32.3" text-anchor="end" >0.05</text>
<line x1="863.20" y1="1017.02" x2="871.70" y2="1017.02" stroke="#000" stroke-width="2.5" />
<text x="855.40" y="1028.32" font-size="32.3" text-anchor="end" >0.10</text>
<line x1="863.20" y1="913.48" x2="871.70" y2="913.48" stroke="#000" stroke-width="2.5" />
<text x="855.40" y="924.78" font-size="32.3" text-anchor="end" >0.15</text>
<line x1="863.20" y1="809.94" x2="871.70" y2="809.94" stroke="#000" stroke-width="2.5" />
<text x="855.40" y="821.24" font-size="32.3" text-anchor="end" >0.20</text>
<line x1="863.20" y1="706.40" x2="871.70" y2="706.40" stroke="#000" stroke-width="2.5" />
<text x="855.40" y="717.70" font-size="32.3" text-anchor="end" >0.25</text>
<line x1="896.70" y1="1224.10" x2="896.70" y2="1232.30" stroke="#000" stroke-width="2.5" />
<line x1="955.00" y1="1224.10" x2="955.00" y2="1232.30" stroke="#000" stroke-width="2.5" />
<line x1="1013.30" y1="1224.10" x2="1013.30" y2="1232.30" stroke="#000" stroke-width="2.5" />
<line x1="1071.60" y1="1224.10" x2="1071.60" y2="1232.30" stroke="#000" stroke-width="2.5" />
<line x1="1129.90" y1="1224.10" x2="1129.90" y2="1232.30" stroke="#000" stroke-width="2.5" />
<line x1="1188.20" y1="1224.10" x2="1188.20" y2="1232.30" stroke="#000" stroke-width="2.5" />
<line x1="1246.50" y1="1224.10" x2="1246.50" y2="1232.30" stroke="#000" stroke-width="2.5" />
<line x1="1304.80" y1="1224.10" x2="1304.80" y2="1232.30" stroke="#000" stroke-width="2.5" />
<line x1="1363.10" y1="1224.10" x2="1363.10" y2="1232.30" stroke="#000" stroke-width="2.5" />
<rect x="884.10" y="723.00" width="28.20" height="28.20" fill="#000"/>
<rect x="884.10" y="769.00" width="28.20" height="28.20" fill="#808080"/>
<text x="929.20" y="749.30" font-size="33" text-anchor="start" textLength="91.5" lengthAdjust="spacingAndGlyphs" >DMSO</text>
<text x="929.20" y="794.60" font-size="33" text-anchor="start" textLength="92.8" lengthAdjust="spacingAndGlyphs" >CA439</text>
<text transform="translate(909.20,1239.50) rotate(-90)" font-size="32.3" text-anchor="end">-</text>
<text transform="translate(967.50,1239.50) rotate(-90)" font-size="32.3" text-anchor="end">0.019</text>
<text transform="translate(1025.80,1239.50) rotate(-90)" font-size="32.3" text-anchor="end">0.038</text>
<text transform="translate(1084.10,1239.50) rotate(-90)" font-size="32.3" text-anchor="end">0.078</text>
<text transform="translate(1142.40,1239.50) rotate(-90)" font-size="32.3" text-anchor="end">0.156</text>
<text transform="translate(1200.70,1239.50) rotate(-90)" font-size="32.3" text-anchor="end">0.312</text>
<text transform="translate(1259.00,1239.50) rotate(-90)" font-size="32.3" text-anchor="end">0.625</text>
<text transform="translate(1317.30,1239.50) rotate(-90)" font-size="32.3" text-anchor="end">1.25</text>
<text transform="translate(1375.60,1239.50) rotate(-90)" font-size="32.3" text-anchor="end">2.5</text>
<text transform="translate(765.30,971.70) rotate(-90)" font-size="33" text-anchor="middle">A<tspan font-size="25.5" dy="7.9">492 nm</tspan></text>
<rect x="876.60" y="1748.22" width="9.40" height="161.08" fill="#000"/>
<rect x="891.70" y="1742.52" width="9.20" height="166.78" fill="#808080"/>
<rect x="916.70" y="1717.07" width="9.40" height="192.23" fill="#000"/>
<rect x="931.80" y="1727.35" width="9.20" height="181.95" fill="#808080"/>
<rect x="956.80" y="1713.21" width="9.40" height="196.09" fill="#000"/>
<rect x="971.90" y="1710.28" width="9.20" height="199.02" fill="#808080"/>
<rect x="996.90" y="1709.57" width="9.40" height="199.73" fill="#000"/>
<rect x="1012.00" y="1698.07" width="9.20" height="211.23" fill="#808080"/>
<rect x="1037.00" y="1688.07" width="9.40" height="221.23" fill="#000"/>
<rect x="1052.10" y="1685.70" width="9.20" height="223.60" fill="#808080"/>
<rect x="1077.10" y="1693.17" width="9.40" height="216.13" fill="#000"/>
<rect x="1092.20" y="1658.50" width="9.20" height="250.80" fill="#808080"/>
<rect x="1117.20" y="1683.01" width="9.40" height="226.29" fill="#000"/>
<rect x="1132.30" y="1639.20" width="9.20" height="270.10" fill="#808080"/>
<rect x="1157.30" y="1683.27" width="9.40" height="226.03" fill="#000"/>
<rect x="1172.40" y="1625.00" width="9.20" height="284.30" fill="#808080"/>
<rect x="1197.40" y="1668.80" width="9.40" height="240.50" fill="#000"/>
<rect x="1212.50" y="1605.50" width="9.20" height="303.80" fill="#808080"/>
<rect x="1237.50" y="1651.30" width="9.40" height="258.00" fill="#000"/>
<rect x="1252.60" y="1619.30" width="9.20" height="290.00" fill="#808080"/>
<rect x="1277.60" y="1604.70" width="9.40" height="304.60" fill="#000"/>
<rect x="1292.70" y="1588.00" width="9.20" height="321.30" fill="#808080"/>
<rect x="1317.70" y="1604.70" width="9.40" height="304.60" fill="#000"/>
<rect x="1332.80" y="1573.40" width="9.20" height="335.90" fill="#808080"/>
<rect x="1357.80" y="1546.50" width="9.40" height="362.80" fill="#000"/>
<rect x="1372.90" y="1545.00" width="9.20" height="364.30" fill="#808080"/>
<circle cx="881.20" cy="1728.40" r="5.9" fill="#fff" stroke="#000" stroke-width="2.4"/>
<circle cx="879.40" cy="1744.00" r="5.9" fill="#fff" stroke="#000" stroke-width="2.4"/>
<circle cx="882.80" cy="1752.10" r="5.9" fill="#fff" stroke="#000" stroke-width="2.4"/>
<circle cx="881.20" cy="1771.60" r="5.9" fill="#fff" stroke="#000" stroke-width="2.4"/>
<circle cx="877.00" cy="1745.00" r="5.9" fill="#fff" stroke="#000" stroke-width="2.4"/>
<circle cx="896.30" cy="1720.40" r="5.9" fill="#fff" stroke="#000" stroke-width="2.4"/>
<circle cx="896.30" cy="1729.80" r="5.9" fill="#fff" stroke="#000" stroke-width="2.4"/>
<circle cx="897.70" cy="1738.60" r="5.9" fill="#fff" stroke="#000" stroke-width="2.4"/>
<circle cx="898.30" cy="1745.30" r="5.9" fill="#fff" stroke="#000" stroke-width="2.4"/>
<circle cx="896.30" cy="1758.10" r="5.9" fill="#fff" stroke="#000" stroke-width="2.4"/>
<circle cx="894.00" cy="1762.90" r="5.9" fill="#fff" stroke="#000" stroke-width="2.4"/>
<circle cx="921.30" cy="1663.70" r="5.9" fill="#fff" stroke="#000" stroke-width="2.4"/>
<circle cx="921.30" cy="1687.30" r="5.9" fill="#fff" stroke="#000" stroke-width="2.4"/>
<circle cx="921.30" cy="1708.90" r="5.9" fill="#fff" stroke="#000" stroke-width="2.4"/>
<circle cx="921.30" cy="1726.40" r="5.9" fill="#fff" stroke="#000" stroke-width="2.4"/>
<circle cx="917.90" cy="1735.20" r="5.9" fill="#fff" stroke="#000" stroke-width="2.4"/>
<circle cx="922.00" cy="1745.30" r="5.9" fill="#fff" stroke="#000" stroke-width="2.4"/>
<circle cx="919.30" cy="1752.70" r="5.9" fill="#fff" stroke="#000" stroke-width="2.4"/>
<circle cx="936.80" cy="1688.00" r="5.9" fill="#fff" stroke="#000" stroke-width="2.4"/>
<circle cx="934.50" cy="1693.40" r="5.9" fill="#fff" stroke="#000" stroke-width="2.4"/>
<circle cx="936.10" cy="1715.60" r="5.9" fill="#fff" stroke="#000" stroke-width="2.4"/>
<circle cx="936.10" cy="1735.20" r="5.9" fill="#fff" stroke="#000" stroke-width="2.4"/>
<circle cx="938.20" cy="1733.80" r="5.9" fill="#fff" stroke="#000" stroke-width="2.4"/>
<circle cx="936.10" cy="1748.70" r="5.9" fill="#fff" stroke="#000" stroke-width="2.4"/>
<circle cx="934.10" cy="1756.10" r="5.9" fill="#fff" stroke="#000" stroke-width="2.4"/>
<circle cx="939.50" cy="1748.00" r="5.9" fill="#fff" stroke="#000" stroke-width="2.4"/>
<circle cx="960.70" cy="1649.50" r="5.9" fill="#fff" stroke="#000" stroke-width="2.4"/>
<circle cx="959.70" cy="1686.60" r="5.9" fill="#fff" stroke="#000" stroke-width="2.4"/>
<circle cx="961.80" cy="1700.10" r="5.9" fill="#fff" stroke="#000" stroke-width="2.4"/>
<circle cx="961.80" cy="1721.70" r="5.9" fill="#fff" stroke="#000" stroke-width="2.4"/>
<circle cx="959.70" cy="1730.50" r="5.9" fill="#fff" stroke="#000" stroke-width="2.4"/>
<circle cx="957.70" cy="1753.40" r="5.9" fill="#fff" stroke="#000" stroke-width="2.4"/>
<circle cx="963.80" cy="1750.70" r="5.9" fill="#fff" stroke="#000" stroke-width="2.4"/>
<circle cx="975.90" cy="1662.60" r="5.9" fill="#fff" stroke="#000" stroke-width="2.4"/>
<circle cx="975.90" cy="1685.30" r="5.9" fill="#fff" stroke="#000" stroke-width="2.4"/>
<circle cx="975.90" cy="1714.30" r="5.9" fill="#fff" stroke="#000" stroke-width="2.4"/>
<circle cx="977.30" cy="1720.40" r="5.9" fill="#fff" stroke="#000" stroke-width="2.4"/>
<circle cx="979.30" cy="1736.50" r="5.9" fill="#fff" stroke="#000" stroke-width="2.4"/>
<circle cx="975.30" cy="1742.60" r="5.9" fill="#fff" stroke="#000" stroke-width="2.4"/>
<circle cx="1001.60" cy="1650.20" r="5.9" fill="#fff" stroke="#000" stroke-width="2.4"/>
<circle cx="999.60" cy="1698.80" r="5.9" fill="#fff" stroke="#000" stroke-width="2.4"/>
<circle cx="1003.60" cy="1710.90" r="5.9" fill="#fff" stroke="#000" stroke-width="2.4"/>
<circle cx="1001.60" cy="1714.30" r="5.9" fill="#fff" stroke="#000" stroke-width="2.4"/>
<circle cx="1003.60" cy="1737.20" r="5.9" fill="#fff" stroke="#000" stroke-width="2.4"/>
<circle cx="998.90" cy="1746.00" r="5.9" fill="#fff" stroke="#000" stroke-width="2.4"/>
<circle cx="1016.40" cy="1643.40" r="5.9" fill="#fff" stroke="#000" stroke-width="2.4"/>
<circle cx="1017.10" cy="1678.50" r="5.9" fill="#fff" stroke="#000" stroke-width="2.4"/>
<circle cx="1017.10" cy="1696.10" r="5.9" fill="#fff" stroke="#000" stroke-width="2.4"/>
<circle cx="1019.80" cy="1719.00" r="5.9" fill="#fff" stroke="#000" stroke-width="2.4"/>
<circle cx="1017.10" cy="1723.00" r="5.9" fill="#fff" stroke="#000" stroke-width="2.4"/>
<circle cx="1015.10" cy="1728.40" r="5.9" fill="#fff" stroke="#000" stroke-width="2.4"/>
<circle cx="1041.50" cy="1644.60" r="5.9" fill="#fff" stroke="#000" stroke-width="2.4"/>
<circle cx="1040.10" cy="1664.80" r="5.9" fill="#fff" stroke="#000" stroke-width="2.4"/>
<circle cx="1042.80" cy="1669.60" r="5.9" fill="#fff" stroke="#000" stroke-width="2.4"/>
<circle cx="1041.50" cy="1689.10" r="5.9" fill="#fff" stroke="#000" stroke-width="2.4"/>
<circle cx="1041.50" cy="1706.70" r="5.9" fill="#fff" stroke="#000" stroke-width="2.4"/>
<circle cx="1044.20" cy="1714.80" r="5.9" fill="#fff" stroke="#000" stroke-width="2.4"/>
<circle cx="1039.40" cy="1726.90" r="5.9" fill="#fff" stroke="#000" stroke-width="2.4"/>
<circle cx="1056.70" cy="1639.90" r="5.9" fill="#fff" stroke="#000" stroke-width="2.4"/>
<circle cx="1056.30" cy="1660.80" r="5.9" fill="#fff" stroke="#000" stroke-width="2.4"/>
<circle cx="1056.30" cy="1679.00" r="5.9" fill="#fff" stroke="#000" stroke-width="2.4"/>
<circle cx="1059.40" cy="1700.60" r="5.9" fill="#fff" stroke="#000" stroke-width="2.4"/>
<circle cx="1058.30" cy="1708.00" r="5.9" fill="#fff" stroke="#000" stroke-width="2.4"/>
<circle cx="1055.00" cy="1712.70" r="5.9" fill="#fff" stroke="#000" stroke-width="2.4"/>
<circle cx="1084.00" cy="1642.60" r="5.9" fill="#fff" stroke="#000" stroke-width="2.4"/>
<circle cx="1079.30" cy="1651.30" r="5.9" fill="#fff" stroke="#000" stroke-width="2.4"/>
<circle cx="1079.30" cy="1684.40" r="5.9" fill="#fff" stroke="#000" stroke-width="2.4"/>
<circle cx="1083.30" cy="1696.50" r="5.9" fill="#fff" stroke="#000" stroke-width="2.4"/>
<circle cx="1078.60" cy="1712.10" r="5.9" fill="#fff" stroke="#000" stroke-width="2.4"/>
<circle cx="1085.30" cy="1730.30" r="5.9" fill="#fff" stroke="#000" stroke-width="2.4"/>
<circle cx="1079.30" cy="1735.00" r="5.9" fill="#fff" stroke="#000" stroke-width="2.4"/>
<circle cx="1096.40" cy="1605.50" r="5.9" fill="#fff" stroke="#000" stroke-width="2.4"/>
<circle cx="1095.90" cy="1618.30" r="5.9" fill="#fff" stroke="#000" stroke-width="2.4"/>
<circle cx="1097.50" cy="1626.40" r="5.9" fill="#fff" stroke="#000" stroke-width="2.4"/>
<circle cx="1098.20" cy="1631.80" r="5.9" fill="#fff" stroke="#000" stroke-width="2.4"/>
<circle cx="1098.20" cy="1691.10" r="5.9" fill="#fff" stroke="#000" stroke-width="2.4"/>
<circle cx="1096.80" cy="1693.80" r="5.9" fill="#fff" stroke="#000" stroke-width="2.4"/>
<circle cx="1094.80" cy="1700.60" r="5.9" fill="#fff" stroke="#000" stroke-width="2.4"/>
<circle cx="1123.10" cy="1624.70" r="5.9" fill="#fff" stroke="#000" stroke-width="2.4"/>
<circle cx="1119.70" cy="1633.10" r="5.9" fill="#fff" stroke="#000" stroke-width="2.4"/>
<circle cx="1119.10" cy="1671.60" r="5.9" fill="#fff" stroke="#000" stroke-width="2.4"/>
<circle cx="1123.10" cy="1677.70" r="5.9" fill="#fff" stroke="#000" stroke-width="2.4"/>
<circle cx="1119.70" cy="1683.00" r="5.9" fill="#fff" stroke="#000" stroke-width="2.4"/>
<circle cx="1121.10" cy="1708.70" r="5.9" fill="#fff" stroke="#000" stroke-width="2.4"/>
<circle cx="1122.40" cy="1731.00" r="5.9" fill="#fff" stroke="#000" stroke-width="2.4"/>
<circle cx="1119.10" cy="1734.30" r="5.9" fill="#fff" stroke="#000" stroke-width="2.4"/>
<circle cx="1136.60" cy="1588.60" r="5.9" fill="#fff" stroke="#000" stroke-width="2.4"/>
<circle cx="1135.90" cy="1592.00" r="5.9" fill="#fff" stroke="#000" stroke-width="2.4"/>
<circle cx="1136.60" cy="1606.10" r="5.9" fill="#fff" stroke="#000" stroke-width="2.4"/>
<circle cx="1136.60" cy="1621.60" r="5.9" fill="#fff" stroke="#000" stroke-width="2.4"/>
<circle cx="1138.00" cy="1671.60" r="5.9" fill="#fff" stroke="#000" stroke-width="2.4"/>
<circle cx="1136.60" cy="1673.60" r="5.9" fill="#fff" stroke="#000" stroke-width="2.4"/>
<circle cx="1134.60" cy="1683.00" r="5.9" fill="#fff" stroke="#000" stroke-width="2.4"/>
<circle cx="1161.60" cy="1634.50" r="5.9" fill="#fff" stroke="#000" stroke-width="2.4"/>
<circle cx="1161.60" cy="1672.90" r="5.9" fill="#fff" stroke="#000" stroke-width="2.4"/>
<circle cx="1164.30" cy="1682.40" r="5.9" fill="#fff" stroke="#000" stroke-width="2.4"/>
<circle cx="1160.20" cy="1684.40" r="5.9" fill="#fff" stroke="#000" stroke-width="2.4"/>
<circle cx="1158.20" cy="1699.20" r="5.9" fill="#fff" stroke="#000" stroke-width="2.4"/>
<circle cx="1161.60" cy="1726.20" r="5.9" fill="#fff" stroke="#000" stroke-width="2.4"/>
<circle cx="1173.70" cy="1557.50" r="5.9" fill="#fff" stroke="#000" stroke-width="2.4"/>
<circle cx="1179.10" cy="1566.30" r="5.9" fill="#fff" stroke="#000" stroke-width="2.4"/>
<circle cx="1176.40" cy="1609.50" r="5.9" fill="#fff" stroke="#000" stroke-width="2.4"/>
<circle cx="1173.00" cy="1651.30" r="5.9" fill="#fff" stroke="#000" stroke-width="2.4"/>
<circle cx="1179.10" cy="1652.00" r="5.9" fill="#fff" stroke="#000" stroke-width="2.4"/>
<circle cx="1179.10" cy="1663.50" r="5.9" fill="#fff" stroke="#000" stroke-width="2.4"/>
<circle cx="1174.40" cy="1671.60" r="5.9" fill="#fff" stroke="#000" stroke-width="2.4"/>
<circle cx="1201.90" cy="1596.00" r="5.9" fill="#fff" stroke="#000" stroke-width="2.4"/>
<circle cx="1200.90" cy="1636.80" r="5.9" fill="#fff" stroke="#000" stroke-width="2.4"/>
<circle cx="1201.60" cy="1647.00" r="5.9" fill="#fff" stroke="#000" stroke-width="2.4"/>
<circle cx="1203.80" cy="1651.30" r="5.9" fill="#fff" stroke="#000" stroke-width="2.4"/>
<circle cx="1203.10" cy="1677.50" r="5.9" fill="#fff" stroke="#000" stroke-width="2.4"/>
<circle cx="1200.20" cy="1688.40" r="5.9" fill="#fff" stroke="#000" stroke-width="2.4"/>
<circle cx="1202.70" cy="1715.40" r="5.9" fill="#fff" stroke="#000" stroke-width="2.4"/>
<circle cx="1200.00" cy="1720.20" r="5.9" fill="#fff" stroke="#000" stroke-width="2.4"/>
<circle cx="1215.50" cy="1536.30" r="5.9" fill="#fff" stroke="#000" stroke-width="2.4"/>
<circle cx="1217.40" cy="1550.80" r="5.9" fill="#fff" stroke="#000" stroke-width="2.4"/>
<circle cx="1216.60" cy="1590.90" r="5.9" fill="#fff" stroke="#000" stroke-width="2.4"/>
<circle cx="1216.60" cy="1627.30" r="5.9" fill="#fff" stroke="#000" stroke-width="2.4"/>
<circle cx="1219.10" cy="1633.10" r="5.9" fill="#fff" stroke="#000" stroke-width="2.4"/>
<circle cx="1216.20" cy="1644.80" r="5.9" fill="#fff" stroke="#000" stroke-width="2.4"/>
<circle cx="1241.70" cy="1593.80" r="5.9" fill="#fff" stroke="#000" stroke-width="2.4"/>
<circle cx="1244.60" cy="1633.10" r="5.9" fill="#fff" stroke="#000" stroke-width="2.4"/>
<circle cx="1241.70" cy="1639.70" r="5.9" fill="#fff" stroke="#000" stroke-width="2.4"/>
<circle cx="1239.50" cy="1650.60" r="5.9" fill="#fff" stroke="#000" stroke-width="2.4"/>
<circle cx="1242.10" cy="1684.80" r="5.9" fill="#fff" stroke="#000" stroke-width="2.4"/>
<circle cx="1257.00" cy="1585.10" r="5.9" fill="#fff" stroke="#000" stroke-width="2.4"/>
<circle cx="1259.90" cy="1606.20" r="5.9" fill="#fff" stroke="#000" stroke-width="2.4"/>
<circle cx="1257.70" cy="1604.70" r="5.9" fill="#fff" stroke="#000" stroke-width="2.4"/>
<circle cx="1254.80" cy="1617.10" r="5.9" fill="#fff" stroke="#000" stroke-width="2.4"/>
<circle cx="1282.00" cy="1551.60" r="5.9" fill="#fff" stroke="#000" stroke-width="2.4"/>
<circle cx="1282.00" cy="1578.50" r="5.9" fill="#fff" stroke="#000" stroke-width="2.4"/>
<circle cx="1284.40" cy="1590.90" r="5.9" fill="#fff" stroke="#000" stroke-width="2.4"/>
<circle cx="1279.10" cy="1605.50" r="5.9" fill="#fff" stroke="#000" stroke-width="2.4"/>
<circle cx="1284.60" cy="1645.50" r="5.9" fill="#fff" stroke="#000" stroke-width="2.4"/>
<circle cx="1279.50" cy="1652.80" r="5.9" fill="#fff" stroke="#000" stroke-width="2.4"/>
<circle cx="1297.00" cy="1556.70" r="5.9" fill="#fff" stroke="#000" stroke-width="2.4"/>
<circle cx="1294.10" cy="1582.20" r="5.9" fill="#fff" stroke="#000" stroke-width="2.4"/>
<circle cx="1299.90" cy="1581.40" r="5.9" fill="#fff" stroke="#000" stroke-width="2.4"/>
<circle cx="1297.00" cy="1599.60" r="5.9" fill="#fff" stroke="#000" stroke-width="2.4"/>
<circle cx="1321.80" cy="1521.00" r="5.9" fill="#fff" stroke="#000" stroke-width="2.4"/>
<circle cx="1321.80" cy="1566.10" r="5.9" fill="#fff" stroke="#000" stroke-width="2.4"/>
<circle cx="1324.70" cy="1595.30" r="5.9" fill="#fff" stroke="#000" stroke-width="2.4"/>
<circle cx="1318.90" cy="1604.70" r="5.9" fill="#fff" stroke="#000" stroke-width="2.4"/>
<circle cx="1321.80" cy="1649.10" r="5.9" fill="#fff" stroke="#000" stroke-width="2.4"/>
<circle cx="1321.80" cy="1672.40" r="5.9" fill="#fff" stroke="#000" stroke-width="2.4"/>
<circle cx="1339.20" cy="1548.70" r="5.9" fill="#fff" stroke="#000" stroke-width="2.4"/>
<circle cx="1334.90" cy="1563.20" r="5.9" fill="#fff" stroke="#000" stroke-width="2.4"/>
<circle cx="1334.90" cy="1590.20" r="5.9" fill="#fff" stroke="#000" stroke-width="2.4"/>
<circle cx="1339.20" cy="1586.50" r="5.9" fill="#fff" stroke="#000" stroke-width="2.4"/>
<circle cx="1361.80" cy="1479.50" r="5.9" fill="#fff" stroke="#000" stroke-width="2.4"/>
<circle cx="1361.80" cy="1515.20" r="5.9" fill="#fff" stroke="#000" stroke-width="2.4"/>
<circle cx="1361.80" cy="1566.10" r="5.9" fill="#fff" stroke="#000" stroke-width="2.4"/>
<circle cx="1358.20" cy="1585.80" r="5.9" fill="#fff" stroke="#000" stroke-width="2.4"/>
<circle cx="1364.70" cy="1582.20" r="5.9" fill="#fff" stroke="#000" stroke-width="2.4"/>
<circle cx="1377.10" cy="1469.30" r="5.9" fill="#fff" stroke="#000" stroke-width="2.4"/>
<circle cx="1377.10" cy="1491.90" r="5.9" fill="#fff" stroke="#000" stroke-width="2.4"/>
<circle cx="1373.50" cy="1539.90" r="5.9" fill="#fff" stroke="#000" stroke-width="2.4"/>
<circle cx="1379.30" cy="1538.50" r="5.9" fill="#fff" stroke="#000" stroke-width="2.4"/>
<circle cx="1377.10" cy="1572.00" r="5.9" fill="#fff" stroke="#000" stroke-width="2.4"/>
<circle cx="1377.10" cy="1592.30" r="5.9" fill="#fff" stroke="#000" stroke-width="2.4"/>
<line x1="881.30" y1="1732.55" x2="881.30" y2="1763.89" stroke="#000" stroke-width="2.2" />
<line x1="896.30" y1="1726.19" x2="896.30" y2="1758.84" stroke="#000" stroke-width="2.2" />
<line x1="921.40" y1="1684.71" x2="921.40" y2="1749.43" stroke="#000" stroke-width="2.2" />
<line x1="936.40" y1="1701.57" x2="936.40" y2="1753.13" stroke="#000" stroke-width="2.2" />
<line x1="961.50" y1="1675.95" x2="961.50" y2="1750.48" stroke="#000" stroke-width="2.2" />
<line x1="976.50" y1="1679.47" x2="976.50" y2="1741.10" stroke="#000" stroke-width="2.2" />
<line x1="1001.60" y1="1675.64" x2="1001.60" y2="1743.49" stroke="#000" stroke-width="2.2" />
<line x1="1016.60" y1="1665.34" x2="1016.60" y2="1730.79" stroke="#000" stroke-width="2.2" />
<line x1="1041.70" y1="1658.23" x2="1041.70" y2="1717.91" stroke="#000" stroke-width="2.2" />
<line x1="1056.70" y1="1656.78" x2="1056.70" y2="1714.62" stroke="#000" stroke-width="2.2" />
<line x1="1081.80" y1="1656.92" x2="1081.80" y2="1729.42" stroke="#000" stroke-width="2.2" />
<line x1="1096.80" y1="1617.68" x2="1096.80" y2="1699.32" stroke="#000" stroke-width="2.2" />
<line x1="1121.90" y1="1642.23" x2="1121.90" y2="1723.80" stroke="#000" stroke-width="2.2" />
<line x1="1136.90" y1="1598.09" x2="1136.90" y2="1680.31" stroke="#000" stroke-width="2.2" />
<line x1="1162.00" y1="1652.99" x2="1162.00" y2="1713.55" stroke="#000" stroke-width="2.2" />
<line x1="1177.00" y1="1577.89" x2="1177.00" y2="1672.11" stroke="#000" stroke-width="2.2" />
<line x1="1202.10" y1="1626.82" x2="1202.10" y2="1710.78" stroke="#000" stroke-width="2.2" />
<line x1="1217.10" y1="1559.98" x2="1217.10" y2="1651.02" stroke="#000" stroke-width="2.2" />
<line x1="1242.20" y1="1618.51" x2="1242.20" y2="1684.09" stroke="#000" stroke-width="2.2" />
<line x1="1257.20" y1="1605.98" x2="1257.20" y2="1632.62" stroke="#000" stroke-width="2.2" />
<line x1="1282.30" y1="1565.52" x2="1282.30" y2="1643.88" stroke="#000" stroke-width="2.2" />
<line x1="1297.30" y1="1570.36" x2="1297.30" y2="1605.64" stroke="#000" stroke-width="2.2" />
<line x1="1322.40" y1="1549.79" x2="1322.40" y2="1659.61" stroke="#000" stroke-width="2.2" />
<line x1="1337.40" y1="1553.72" x2="1337.40" y2="1593.08" stroke="#000" stroke-width="2.2" />
<line x1="1362.50" y1="1499.95" x2="1362.50" y2="1593.05" stroke="#000" stroke-width="2.2" />
<line x1="1377.50" y1="1498.40" x2="1377.50" y2="1591.60" stroke="#000" stroke-width="2.2" />
<path d="M878.80,1705.50 V1692.70 H898.30 V1705.50" fill="none" stroke="#000" stroke-width="2.75" stroke-linecap="butt" stroke-linejoin="miter"/>
<path d="M920.60,1650.80 V1639.40 H939.50 V1650.80" fill="none" stroke="#000" stroke-width="2.75" stroke-linecap="butt" stroke-linejoin="miter"/>
<path d="M959.70,1631.30 V1619.10 H978.60 V1631.30" fill="none" stroke="#000" stroke-width="2.75" stroke-linecap="butt" stroke-linejoin="miter"/>
<path d="M1001.60,1626.60 V1613.70 H1020.50 V1626.60" fill="none" stroke="#000" stroke-width="2.75" stroke-linecap="butt" stroke-linejoin="miter"/>
<path d="M1038.10,1621.60 V1610.20 H1056.30 V1621.60" fill="none" stroke="#000" stroke-width="2.75" stroke-linecap="butt" stroke-linejoin="miter"/>
<path d="M1079.30,1590.60 V1578.90 H1098.80 V1590.60" fill="none" stroke="#000" stroke-width="2.75" stroke-linecap="butt" stroke-linejoin="miter"/>
<path d="M1119.10,1573.70 V1561.60 H1138.00 V1573.70" fill="none" stroke="#000" stroke-width="2.75" stroke-linecap="butt" stroke-linejoin="miter"/>
<path d="M1160.30,1541.90 V1530.20 H1179.20 V1541.90" fill="none" stroke="#000" stroke-width="2.75" stroke-linecap="butt" stroke-linejoin="miter"/>
<path d="M1199.50,1520.30 V1508.60 H1218.40 V1520.30" fill="none" stroke="#000" stroke-width="2.75" stroke-linecap="butt" stroke-linejoin="miter"/>
<path d="M1238.80,1571.20 V1559.60 H1257.70 V1571.20" fill="none" stroke="#000" stroke-width="2.75" stroke-linecap="butt" stroke-linejoin="miter"/>
<path d="M1280.30,1536.30 V1525.40 H1299.90 V1536.30" fill="none" stroke="#000" stroke-width="2.75" stroke-linecap="butt" stroke-linejoin="miter"/>
<path d="M1322.50,1505.00 V1493.30 H1342.20 V1505.00" fill="none" stroke="#000" stroke-width="2.75" stroke-linecap="butt" stroke-linejoin="miter"/>
<path d="M1361.80,1457.00 V1445.30 H1380.70 V1457.00" fill="none" stroke="#000" stroke-width="2.75" stroke-linecap="butt" stroke-linejoin="miter"/>
<text x="888.05" y="1686.80" font-size="23.5" text-anchor="middle" >ns</text>
<text x="929.55" y="1633.50" font-size="23.5" text-anchor="middle" >ns</text>
<text x="968.65" y="1610.50" font-size="23.5" text-anchor="middle" >ns</text>
<text x="1010.55" y="1605.80" font-size="23.5" text-anchor="middle" >ns</text>
<text x="1046.70" y="1603.60" font-size="23.5" text-anchor="middle" >ns</text>
<text x="1088.55" y="1572.50" font-size="23.5" text-anchor="middle" >ns</text>
<text x="1128.05" y="1555.70" font-size="23.5" text-anchor="middle" >ns</text>
<text x="1169.25" y="1523.70" font-size="23.5" text-anchor="middle" >ns</text>
<text x="1208.45" y="1502.80" font-size="23.5" text-anchor="middle" >ns</text>
<text x="1247.75" y="1553.10" font-size="23.5" text-anchor="middle" >ns</text>
<text x="1289.60" y="1518.90" font-size="23.5" text-anchor="middle" >ns</text>
<text x="1331.85" y="1487.50" font-size="23.5" text-anchor="middle" >ns</text>
<text x="1370.75" y="1438.30" font-size="23.5" text-anchor="middle" >ns</text>
<line x1="871.40" y1="1390.15" x2="871.40" y2="1910.55" stroke="#000" stroke-width="2.5" />
<line x1="870.15" y1="1391.40" x2="1390.75" y2="1391.40" stroke="#000" stroke-width="2.5" />
<line x1="1389.50" y1="1390.15" x2="1389.50" y2="1910.55" stroke="#000" stroke-width="2.5" />
<line x1="862.90" y1="1909.30" x2="1390.75" y2="1909.30" stroke="#000" stroke-width="2.5" />
<text x="855.10" y="1920.60" font-size="32.3" text-anchor="end" >0.0</text>
<line x1="862.90" y1="1779.83" x2="871.40" y2="1779.83" stroke="#000" stroke-width="2.5" />
<text x="855.10" y="1791.12" font-size="32.3" text-anchor="end" >0.2</text>
<line x1="862.90" y1="1650.35" x2="871.40" y2="1650.35" stroke="#000" stroke-width="2.5" />
<text x="855.10" y="1661.65" font-size="32.3" text-anchor="end" >0.4</text>
<line x1="862.90" y1="1520.88" x2="871.40" y2="1520.88" stroke="#000" stroke-width="2.5" />
<text x="855.10" y="1532.17" font-size="32.3" text-anchor="end" >0.6</text>
<line x1="862.90" y1="1391.40" x2="871.40" y2="1391.40" stroke="#000" stroke-width="2.5" />
<text x="855.10" y="1402.70" font-size="32.3" text-anchor="end" >0.8</text>
<line x1="888.40" y1="1909.30" x2="888.40" y2="1917.50" stroke="#000" stroke-width="2.5" />
<line x1="928.50" y1="1909.30" x2="928.50" y2="1917.50" stroke="#000" stroke-width="2.5" />
<line x1="968.60" y1="1909.30" x2="968.60" y2="1917.50" stroke="#000" stroke-width="2.5" />
<line x1="1008.70" y1="1909.30" x2="1008.70" y2="1917.50" stroke="#000" stroke-width="2.5" />
<line x1="1048.80" y1="1909.30" x2="1048.80" y2="1917.50" stroke="#000" stroke-width="2.5" />
<line x1="1088.90" y1="1909.30" x2="1088.90" y2="1917.50" stroke="#000" stroke-width="2.5" />
<line x1="1129.00" y1="1909.30" x2="1129.00" y2="1917.50" stroke="#000" stroke-width="2.5" />
<line x1="1169.10" y1="1909.30" x2="1169.10" y2="1917.50" stroke="#000" stroke-width="2.5" />
<line x1="1209.20" y1="1909.30" x2="1209.20" y2="1917.50" stroke="#000" stroke-width="2.5" />
<line x1="1249.30" y1="1909.30" x2="1249.30" y2="1917.50" stroke="#000" stroke-width="2.5" />
<line x1="1289.40" y1="1909.30" x2="1289.40" y2="1917.50" stroke="#000" stroke-width="2.5" />
<line x1="1329.50" y1="1909.30" x2="1329.50" y2="1917.50" stroke="#000" stroke-width="2.5" />
<line x1="1369.60" y1="1909.30" x2="1369.60" y2="1917.50" stroke="#000" stroke-width="2.5" />
<rect x="883.90" y="1408.00" width="28.00" height="28.00" fill="#000"/>
<rect x="883.90" y="1454.00" width="28.00" height="28.00" fill="#808080"/>
<text x="929.00" y="1434.10" font-size="33" text-anchor="start" textLength="91.5" lengthAdjust="spacingAndGlyphs" >DMSO</text>
<text x="929.00" y="1479.60" font-size="33" text-anchor="start" textLength="92.8" lengthAdjust="spacingAndGlyphs" >CA439</text>
<text transform="translate(900.40,1924.50) rotate(-90)" font-size="32.3" text-anchor="end">-</text>
<text transform="translate(940.50,1924.50) rotate(-90)" font-size="32.3" text-anchor="end">0.156</text>
<text transform="translate(980.60,1924.50) rotate(-90)" font-size="32.3" text-anchor="end">0.312</text>
<text transform="translate(1020.70,1924.50) rotate(-90)" font-size="32.3" text-anchor="end">0.625</text>
<text transform="translate(1060.80,1924.50) rotate(-90)" font-size="32.3" text-anchor="end">1.25</text>
<text transform="translate(1100.90,1924.50) rotate(-90)" font-size="32.3" text-anchor="end">2.5</text>
<text transform="translate(1141.00,1924.50) rotate(-90)" font-size="32.3" text-anchor="end">5</text>
<text transform="translate(1181.10,1924.50) rotate(-90)" font-size="32.3" text-anchor="end">10</text>
<text transform="translate(1221.20,1924.50) rotate(-90)" font-size="32.3" text-anchor="end">20</text>
<text transform="translate(1261.30,1924.50) rotate(-90)" font-size="32.3" text-anchor="end">40</text>
<text transform="translate(1301.40,1924.50) rotate(-90)" font-size="32.3" text-anchor="end">80</text>
<text transform="translate(1341.50,1924.50) rotate(-90)" font-size="32.3" text-anchor="end">100</text>
<text transform="translate(1381.60,1924.50) rotate(-90)" font-size="32.3" text-anchor="end">200</text>
<text transform="translate(781.90,1656.80) rotate(-90)" font-size="33" text-anchor="middle">A<tspan font-size="25.5" dy="7.9">405 nm</tspan></text>
<text x="1130.40" y="2032.00" font-size="31.0" text-anchor="middle" textLength="214.8" lengthAdjust="spacingAndGlyphs" >colistin (<tspan style="font-family:'Liberation Serif',serif">μ</tspan>g/mL)</text>
</svg>
</body></html>
